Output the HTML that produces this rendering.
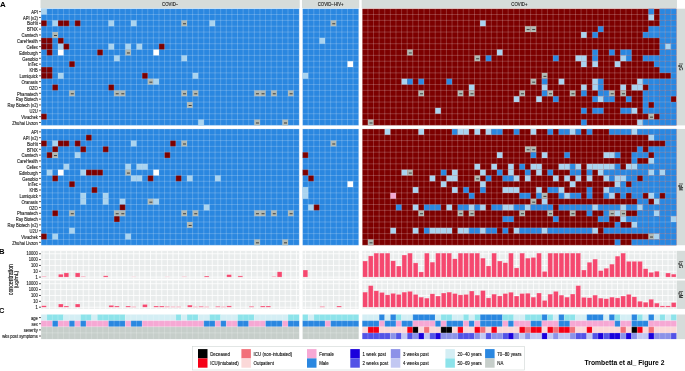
<!DOCTYPE html><html><head><meta charset="utf-8"><style>html,body{margin:0;padding:0;background:#fff;width:685px;height:371px;overflow:hidden}svg{display:block;will-change:transform}text{font-family:"Liberation Sans",sans-serif}</style></head><body>
<svg width="685" height="371" viewBox="0 0 685 371">
<rect width="685" height="371" fill="#fff"/>
<rect x="40.55" y="0" width="259.16" height="8.1" fill="#d6dcda"/>
<text transform="translate(170.18 5.95) scale(1 1.1)" font-size="4.3" fill="#1a1a1a" stroke="#1a1a1a" stroke-width="0.1" text-anchor="middle">COVID−</text>
<rect x="302" y="0" width="57.2" height="8.1" fill="#d6dcda"/>
<text transform="translate(330.65 5.95) scale(1 1.1)" font-size="4.3" fill="#1a1a1a" stroke="#1a1a1a" stroke-width="0.1" text-anchor="middle">COVID−HIV+</text>
<rect x="361.7" y="0" width="315.26" height="8.1" fill="#d6dcda"/>
<text transform="translate(519.38 5.95) scale(1 1.1)" font-size="4.3" fill="#1a1a1a" stroke="#1a1a1a" stroke-width="0.1" text-anchor="middle">COVID+</text>
<rect x="676.7" y="8.7" width="9" height="116.7" fill="#d6dcda"/>
<text transform="translate(679.2 67.05) rotate(90) scale(1 1.1)" font-size="4.3" fill="#1a1a1a" stroke="#1a1a1a" stroke-width="0.1" text-anchor="middle">IgG</text>
<rect x="676.7" y="128.95" width="9" height="116.3" fill="#d6dcda"/>
<text transform="translate(679.2 187.1) rotate(90) scale(1 1.1)" font-size="4.3" fill="#1a1a1a" stroke="#1a1a1a" stroke-width="0.1" text-anchor="middle">IgM</text>
<rect x="676.7" y="250.8" width="9" height="28" fill="#d6dcda"/>
<text transform="translate(679.2 264.8) rotate(90) scale(1 1.1)" font-size="4.3" fill="#1a1a1a" stroke="#1a1a1a" stroke-width="0.1" text-anchor="middle">IgG</text>
<rect x="676.7" y="280.5" width="9" height="28.4" fill="#d6dcda"/>
<text transform="translate(679.2 294.7) rotate(90) scale(1 1.1)" font-size="4.3" fill="#1a1a1a" stroke="#1a1a1a" stroke-width="0.1" text-anchor="middle">IgM</text>
<rect x="676.7" y="314.5" width="9" height="24.6" fill="#d6dcda"/>
<rect x="41.15" y="8.7" width="258.06" height="116.7" fill="#2a87e0"/>
<rect x="41.15" y="8.7" width="5.61" height="5.83" fill="#a9d3ef"/>
<rect x="41.15" y="20.37" width="5.61" height="5.83" fill="#7c0000"/>
<rect x="52.37" y="20.37" width="5.61" height="5.83" fill="#a9d3ef"/>
<rect x="57.98" y="20.37" width="5.61" height="5.83" fill="#7c0000"/>
<rect x="63.59" y="20.37" width="5.61" height="5.83" fill="#7c0000"/>
<rect x="74.81" y="20.37" width="5.61" height="5.83" fill="#7c0000"/>
<rect x="108.47" y="20.37" width="5.61" height="5.83" fill="#a9d3ef"/>
<rect x="130.91" y="20.37" width="5.61" height="5.83" fill="#a9d3ef"/>
<rect x="181.4" y="20.37" width="5.61" height="5.83" fill="#b0b8b2"/>
<rect x="209.45" y="20.37" width="5.61" height="5.83" fill="#a9d3ef"/>
<rect x="52.37" y="32.04" width="5.61" height="5.83" fill="#b0b8b2"/>
<rect x="41.15" y="37.88" width="5.61" height="5.83" fill="#7c0000"/>
<rect x="46.76" y="37.88" width="5.61" height="5.83" fill="#7c0000"/>
<rect x="57.98" y="37.88" width="5.61" height="5.83" fill="#7c0000"/>
<rect x="41.15" y="43.71" width="5.61" height="5.83" fill="#7c0000"/>
<rect x="46.76" y="43.71" width="5.61" height="5.83" fill="#7c0000"/>
<rect x="57.98" y="43.71" width="5.61" height="5.83" fill="#a9d3ef"/>
<rect x="63.59" y="43.71" width="5.61" height="5.83" fill="#7c0000"/>
<rect x="108.47" y="43.71" width="5.61" height="5.83" fill="#a9d3ef"/>
<rect x="125.3" y="43.71" width="5.61" height="5.83" fill="#a9d3ef"/>
<rect x="136.52" y="43.71" width="5.61" height="5.83" fill="#a9d3ef"/>
<rect x="158.96" y="43.71" width="5.61" height="5.83" fill="#7c0000"/>
<rect x="46.76" y="49.55" width="5.61" height="5.83" fill="#7c0000"/>
<rect x="57.98" y="49.55" width="5.61" height="5.83" fill="#ffffff"/>
<rect x="97.25" y="49.55" width="5.61" height="5.83" fill="#7c0000"/>
<rect x="125.3" y="49.55" width="5.61" height="5.83" fill="#b0b8b2"/>
<rect x="153.35" y="49.55" width="5.61" height="5.83" fill="#ffffff"/>
<rect x="114.08" y="55.38" width="5.61" height="5.83" fill="#a9d3ef"/>
<rect x="181.4" y="55.38" width="5.61" height="5.83" fill="#a9d3ef"/>
<rect x="69.2" y="61.22" width="5.61" height="5.83" fill="#7c0000"/>
<rect x="41.15" y="67.05" width="5.61" height="5.83" fill="#7c0000"/>
<rect x="46.76" y="67.05" width="5.61" height="5.83" fill="#7c0000"/>
<rect x="41.15" y="72.89" width="5.61" height="5.83" fill="#7c0000"/>
<rect x="46.76" y="72.89" width="5.61" height="5.83" fill="#7c0000"/>
<rect x="57.98" y="72.89" width="5.61" height="5.83" fill="#a9d3ef"/>
<rect x="142.13" y="72.89" width="5.61" height="5.83" fill="#7c0000"/>
<rect x="192.62" y="72.89" width="5.61" height="5.83" fill="#a9d3ef"/>
<rect x="147.74" y="78.72" width="5.61" height="5.83" fill="#b0b8b2"/>
<rect x="153.35" y="78.72" width="5.61" height="5.83" fill="#a9d3ef"/>
<rect x="52.37" y="84.56" width="5.61" height="5.83" fill="#7c0000"/>
<rect x="108.47" y="84.56" width="5.61" height="5.83" fill="#7c0000"/>
<rect x="69.2" y="90.39" width="5.61" height="5.83" fill="#b0b8b2"/>
<rect x="114.08" y="90.39" width="5.61" height="5.83" fill="#b0b8b2"/>
<rect x="119.69" y="90.39" width="5.61" height="5.83" fill="#b0b8b2"/>
<rect x="181.4" y="90.39" width="5.61" height="5.83" fill="#b0b8b2"/>
<rect x="192.62" y="90.39" width="5.61" height="5.83" fill="#b0b8b2"/>
<rect x="254.33" y="90.39" width="5.61" height="5.83" fill="#b0b8b2"/>
<rect x="259.94" y="90.39" width="5.61" height="5.83" fill="#b0b8b2"/>
<rect x="271.16" y="90.39" width="5.61" height="5.83" fill="#b0b8b2"/>
<rect x="287.99" y="90.39" width="5.61" height="5.83" fill="#b0b8b2"/>
<rect x="187.01" y="102.06" width="5.61" height="5.83" fill="#b0b8b2"/>
<rect x="41.15" y="113.73" width="5.61" height="5.83" fill="#7c0000"/>
<rect x="198.23" y="119.56" width="5.61" height="5.83" fill="#a9d3ef"/>
<rect x="254.33" y="119.56" width="5.61" height="5.83" fill="#b0b8b2"/>
<rect x="282.38" y="119.56" width="5.61" height="5.83" fill="#b0b8b2"/>
<path d="M41.15 8.7V125.4M46.76 8.7V125.4M52.37 8.7V125.4M57.98 8.7V125.4M63.59 8.7V125.4M69.2 8.7V125.4M74.81 8.7V125.4M80.42 8.7V125.4M86.03 8.7V125.4M91.64 8.7V125.4M97.25 8.7V125.4M102.86 8.7V125.4M108.47 8.7V125.4M114.08 8.7V125.4M119.69 8.7V125.4M125.3 8.7V125.4M130.91 8.7V125.4M136.52 8.7V125.4M142.13 8.7V125.4M147.74 8.7V125.4M153.35 8.7V125.4M158.96 8.7V125.4M164.57 8.7V125.4M170.18 8.7V125.4M175.79 8.7V125.4M181.4 8.7V125.4M187.01 8.7V125.4M192.62 8.7V125.4M198.23 8.7V125.4M203.84 8.7V125.4M209.45 8.7V125.4M215.06 8.7V125.4M220.67 8.7V125.4M226.28 8.7V125.4M231.89 8.7V125.4M237.5 8.7V125.4M243.11 8.7V125.4M248.72 8.7V125.4M254.33 8.7V125.4M259.94 8.7V125.4M265.55 8.7V125.4M271.16 8.7V125.4M276.77 8.7V125.4M282.38 8.7V125.4M287.99 8.7V125.4M293.6 8.7V125.4M299.21 8.7V125.4M41.15 8.7H299.21M41.15 14.54H299.21M41.15 20.37H299.21M41.15 26.2H299.21M41.15 32.04H299.21M41.15 37.88H299.21M41.15 43.71H299.21M41.15 49.55H299.21M41.15 55.38H299.21M41.15 61.22H299.21M41.15 67.05H299.21M41.15 72.89H299.21M41.15 78.72H299.21M41.15 84.56H299.21M41.15 90.39H299.21M41.15 96.23H299.21M41.15 102.06H299.21M41.15 107.89H299.21M41.15 113.73H299.21M41.15 119.56H299.21M41.15 125.4H299.21" stroke="#fff" stroke-opacity="0.45" stroke-width="0.45" fill="none"/>
<rect x="183.01" y="23.34" width="3.0" height="0.9" fill="#303030"/>
<rect x="53.97" y="35.01" width="3.0" height="0.9" fill="#303030"/>
<rect x="126.91" y="52.51" width="3.0" height="0.9" fill="#303030"/>
<rect x="149.35" y="81.69" width="3.0" height="0.9" fill="#303030"/>
<rect x="70.81" y="93.36" width="3.0" height="0.9" fill="#303030"/>
<rect x="115.69" y="93.36" width="3.0" height="0.9" fill="#303030"/>
<rect x="121.3" y="93.36" width="3.0" height="0.9" fill="#303030"/>
<rect x="183.01" y="93.36" width="3.0" height="0.9" fill="#303030"/>
<rect x="194.23" y="93.36" width="3.0" height="0.9" fill="#303030"/>
<rect x="255.94" y="93.36" width="3.0" height="0.9" fill="#303030"/>
<rect x="261.55" y="93.36" width="3.0" height="0.9" fill="#303030"/>
<rect x="272.77" y="93.36" width="3.0" height="0.9" fill="#303030"/>
<rect x="289.6" y="93.36" width="3.0" height="0.9" fill="#303030"/>
<rect x="188.62" y="105.03" width="3.0" height="0.9" fill="#303030"/>
<rect x="255.94" y="122.53" width="3.0" height="0.9" fill="#303030"/>
<rect x="283.99" y="122.53" width="3.0" height="0.9" fill="#303030"/>
<rect x="302.6" y="8.7" width="56.1" height="116.7" fill="#2a87e0"/>
<rect x="330.65" y="20.37" width="5.61" height="5.83" fill="#b0b8b2"/>
<rect x="319.43" y="37.88" width="5.61" height="5.83" fill="#a9d3ef"/>
<rect x="347.48" y="61.22" width="5.61" height="5.83" fill="#ffffff"/>
<rect x="302.6" y="72.89" width="5.61" height="5.83" fill="#a9d3ef"/>
<path d="M302.6 8.7V125.4M308.21 8.7V125.4M313.82 8.7V125.4M319.43 8.7V125.4M325.04 8.7V125.4M330.65 8.7V125.4M336.26 8.7V125.4M341.87 8.7V125.4M347.48 8.7V125.4M353.09 8.7V125.4M358.7 8.7V125.4M302.6 8.7H358.7M302.6 14.54H358.7M302.6 20.37H358.7M302.6 26.2H358.7M302.6 32.04H358.7M302.6 37.88H358.7M302.6 43.71H358.7M302.6 49.55H358.7M302.6 55.38H358.7M302.6 61.22H358.7M302.6 67.05H358.7M302.6 72.89H358.7M302.6 78.72H358.7M302.6 84.56H358.7M302.6 90.39H358.7M302.6 96.23H358.7M302.6 102.06H358.7M302.6 107.89H358.7M302.6 113.73H358.7M302.6 119.56H358.7M302.6 125.4H358.7" stroke="#fff" stroke-opacity="0.45" stroke-width="0.45" fill="none"/>
<rect x="332.26" y="23.34" width="3.0" height="0.9" fill="#303030"/>
<rect x="362.3" y="8.7" width="314.16" height="116.7" fill="#7c0000"/>
<rect x="648.41" y="8.7" width="5.61" height="5.83" fill="#2a87e0"/>
<rect x="659.63" y="8.7" width="5.61" height="5.83" fill="#2a87e0"/>
<rect x="665.24" y="8.7" width="5.61" height="5.83" fill="#2a87e0"/>
<rect x="670.85" y="8.7" width="5.61" height="5.83" fill="#2a87e0"/>
<rect x="648.41" y="14.54" width="5.61" height="5.83" fill="#a9d3ef"/>
<rect x="659.63" y="14.54" width="5.61" height="5.83" fill="#2a87e0"/>
<rect x="665.24" y="14.54" width="5.61" height="5.83" fill="#2a87e0"/>
<rect x="670.85" y="14.54" width="5.61" height="5.83" fill="#2a87e0"/>
<rect x="480.11" y="20.37" width="5.61" height="5.83" fill="#a9d3ef"/>
<rect x="659.63" y="20.37" width="5.61" height="5.83" fill="#2a87e0"/>
<rect x="665.24" y="20.37" width="5.61" height="5.83" fill="#2a87e0"/>
<rect x="670.85" y="20.37" width="5.61" height="5.83" fill="#2a87e0"/>
<rect x="524.99" y="26.2" width="5.61" height="5.83" fill="#b0b8b2"/>
<rect x="530.6" y="26.2" width="5.61" height="5.83" fill="#b0b8b2"/>
<rect x="597.92" y="26.2" width="5.61" height="5.83" fill="#2a87e0"/>
<rect x="648.41" y="26.2" width="5.61" height="5.83" fill="#2a87e0"/>
<rect x="654.02" y="26.2" width="5.61" height="5.83" fill="#2a87e0"/>
<rect x="659.63" y="26.2" width="5.61" height="5.83" fill="#2a87e0"/>
<rect x="665.24" y="26.2" width="5.61" height="5.83" fill="#2a87e0"/>
<rect x="670.85" y="26.2" width="5.61" height="5.83" fill="#2a87e0"/>
<rect x="581.09" y="32.04" width="5.61" height="5.83" fill="#a9d3ef"/>
<rect x="592.31" y="32.04" width="5.61" height="5.83" fill="#2a87e0"/>
<rect x="642.8" y="32.04" width="5.61" height="5.83" fill="#2a87e0"/>
<rect x="648.41" y="32.04" width="5.61" height="5.83" fill="#2a87e0"/>
<rect x="654.02" y="32.04" width="5.61" height="5.83" fill="#2a87e0"/>
<rect x="659.63" y="32.04" width="5.61" height="5.83" fill="#2a87e0"/>
<rect x="665.24" y="32.04" width="5.61" height="5.83" fill="#2a87e0"/>
<rect x="670.85" y="32.04" width="5.61" height="5.83" fill="#2a87e0"/>
<rect x="659.63" y="37.88" width="5.61" height="5.83" fill="#2a87e0"/>
<rect x="665.24" y="37.88" width="5.61" height="5.83" fill="#2a87e0"/>
<rect x="670.85" y="37.88" width="5.61" height="5.83" fill="#2a87e0"/>
<rect x="659.63" y="43.71" width="5.61" height="5.83" fill="#2a87e0"/>
<rect x="665.24" y="43.71" width="5.61" height="5.83" fill="#a9d3ef"/>
<rect x="670.85" y="43.71" width="5.61" height="5.83" fill="#2a87e0"/>
<rect x="407.18" y="49.55" width="5.61" height="5.83" fill="#b0b8b2"/>
<rect x="496.94" y="49.55" width="5.61" height="5.83" fill="#a9d3ef"/>
<rect x="592.31" y="49.55" width="5.61" height="5.83" fill="#2a87e0"/>
<rect x="609.14" y="49.55" width="5.61" height="5.83" fill="#2a87e0"/>
<rect x="620.36" y="49.55" width="5.61" height="5.83" fill="#2a87e0"/>
<rect x="625.97" y="49.55" width="5.61" height="5.83" fill="#2a87e0"/>
<rect x="659.63" y="49.55" width="5.61" height="5.83" fill="#2a87e0"/>
<rect x="665.24" y="49.55" width="5.61" height="5.83" fill="#2a87e0"/>
<rect x="670.85" y="49.55" width="5.61" height="5.83" fill="#2a87e0"/>
<rect x="474.5" y="55.38" width="5.61" height="5.83" fill="#b0b8b2"/>
<rect x="485.72" y="55.38" width="5.61" height="5.83" fill="#2a87e0"/>
<rect x="553.04" y="55.38" width="5.61" height="5.83" fill="#2a87e0"/>
<rect x="575.48" y="55.38" width="5.61" height="5.83" fill="#a9d3ef"/>
<rect x="581.09" y="55.38" width="5.61" height="5.83" fill="#a9d3ef"/>
<rect x="592.31" y="55.38" width="5.61" height="5.83" fill="#2a87e0"/>
<rect x="620.36" y="55.38" width="5.61" height="5.83" fill="#a9d3ef"/>
<rect x="625.97" y="55.38" width="5.61" height="5.83" fill="#2a87e0"/>
<rect x="642.8" y="55.38" width="5.61" height="5.83" fill="#2a87e0"/>
<rect x="648.41" y="55.38" width="5.61" height="5.83" fill="#2a87e0"/>
<rect x="654.02" y="55.38" width="5.61" height="5.83" fill="#2a87e0"/>
<rect x="659.63" y="55.38" width="5.61" height="5.83" fill="#2a87e0"/>
<rect x="665.24" y="55.38" width="5.61" height="5.83" fill="#2a87e0"/>
<rect x="670.85" y="55.38" width="5.61" height="5.83" fill="#2a87e0"/>
<rect x="581.09" y="61.22" width="5.61" height="5.83" fill="#a9d3ef"/>
<rect x="592.31" y="61.22" width="5.61" height="5.83" fill="#a9d3ef"/>
<rect x="614.75" y="61.22" width="5.61" height="5.83" fill="#a9d3ef"/>
<rect x="654.02" y="61.22" width="5.61" height="5.83" fill="#2a87e0"/>
<rect x="659.63" y="61.22" width="5.61" height="5.83" fill="#2a87e0"/>
<rect x="665.24" y="61.22" width="5.61" height="5.83" fill="#2a87e0"/>
<rect x="670.85" y="61.22" width="5.61" height="5.83" fill="#2a87e0"/>
<rect x="659.63" y="67.05" width="5.61" height="5.83" fill="#2a87e0"/>
<rect x="665.24" y="67.05" width="5.61" height="5.83" fill="#2a87e0"/>
<rect x="670.85" y="67.05" width="5.61" height="5.83" fill="#2a87e0"/>
<rect x="541.82" y="72.89" width="5.61" height="5.83" fill="#b0b8b2"/>
<rect x="670.85" y="72.89" width="5.61" height="5.83" fill="#2a87e0"/>
<rect x="401.57" y="78.72" width="5.61" height="5.83" fill="#a9d3ef"/>
<rect x="407.18" y="78.72" width="5.61" height="5.83" fill="#2a87e0"/>
<rect x="418.4" y="78.72" width="5.61" height="5.83" fill="#2a87e0"/>
<rect x="446.45" y="78.72" width="5.61" height="5.83" fill="#2a87e0"/>
<rect x="530.6" y="78.72" width="5.61" height="5.83" fill="#b0b8b2"/>
<rect x="541.82" y="78.72" width="5.61" height="5.83" fill="#2a87e0"/>
<rect x="558.65" y="78.72" width="5.61" height="5.83" fill="#a9d3ef"/>
<rect x="592.31" y="78.72" width="5.61" height="5.83" fill="#a9d3ef"/>
<rect x="597.92" y="78.72" width="5.61" height="5.83" fill="#2a87e0"/>
<rect x="637.19" y="78.72" width="5.61" height="5.83" fill="#a9d3ef"/>
<rect x="642.8" y="78.72" width="5.61" height="5.83" fill="#2a87e0"/>
<rect x="648.41" y="78.72" width="5.61" height="5.83" fill="#2a87e0"/>
<rect x="654.02" y="78.72" width="5.61" height="5.83" fill="#2a87e0"/>
<rect x="659.63" y="78.72" width="5.61" height="5.83" fill="#2a87e0"/>
<rect x="665.24" y="78.72" width="5.61" height="5.83" fill="#2a87e0"/>
<rect x="670.85" y="78.72" width="5.61" height="5.83" fill="#2a87e0"/>
<rect x="468.89" y="84.56" width="5.61" height="5.83" fill="#a9d3ef"/>
<rect x="541.82" y="84.56" width="5.61" height="5.83" fill="#a9d3ef"/>
<rect x="581.09" y="84.56" width="5.61" height="5.83" fill="#a9d3ef"/>
<rect x="592.31" y="84.56" width="5.61" height="5.83" fill="#a9d3ef"/>
<rect x="597.92" y="84.56" width="5.61" height="5.83" fill="#2a87e0"/>
<rect x="620.36" y="84.56" width="5.61" height="5.83" fill="#a9d3ef"/>
<rect x="631.58" y="84.56" width="5.61" height="5.83" fill="#a9d3ef"/>
<rect x="637.19" y="84.56" width="5.61" height="5.83" fill="#a9d3ef"/>
<rect x="648.41" y="84.56" width="5.61" height="5.83" fill="#2a87e0"/>
<rect x="654.02" y="84.56" width="5.61" height="5.83" fill="#2a87e0"/>
<rect x="659.63" y="84.56" width="5.61" height="5.83" fill="#2a87e0"/>
<rect x="665.24" y="84.56" width="5.61" height="5.83" fill="#2a87e0"/>
<rect x="670.85" y="84.56" width="5.61" height="5.83" fill="#2a87e0"/>
<rect x="418.4" y="90.39" width="5.61" height="5.83" fill="#b0b8b2"/>
<rect x="457.67" y="90.39" width="5.61" height="5.83" fill="#b0b8b2"/>
<rect x="468.89" y="90.39" width="5.61" height="5.83" fill="#b0b8b2"/>
<rect x="519.38" y="90.39" width="5.61" height="5.83" fill="#b0b8b2"/>
<rect x="541.82" y="90.39" width="5.61" height="5.83" fill="#2a87e0"/>
<rect x="547.43" y="90.39" width="5.61" height="5.83" fill="#b0b8b2"/>
<rect x="569.87" y="90.39" width="5.61" height="5.83" fill="#b0b8b2"/>
<rect x="581.09" y="90.39" width="5.61" height="5.83" fill="#2a87e0"/>
<rect x="597.92" y="90.39" width="5.61" height="5.83" fill="#2a87e0"/>
<rect x="603.53" y="90.39" width="5.61" height="5.83" fill="#2a87e0"/>
<rect x="609.14" y="90.39" width="5.61" height="5.83" fill="#b0b8b2"/>
<rect x="620.36" y="90.39" width="5.61" height="5.83" fill="#b0b8b2"/>
<rect x="642.8" y="90.39" width="5.61" height="5.83" fill="#2a87e0"/>
<rect x="648.41" y="90.39" width="5.61" height="5.83" fill="#2a87e0"/>
<rect x="654.02" y="90.39" width="5.61" height="5.83" fill="#2a87e0"/>
<rect x="659.63" y="90.39" width="5.61" height="5.83" fill="#2a87e0"/>
<rect x="665.24" y="90.39" width="5.61" height="5.83" fill="#2a87e0"/>
<rect x="670.85" y="90.39" width="5.61" height="5.83" fill="#2a87e0"/>
<rect x="513.77" y="96.23" width="5.61" height="5.83" fill="#a9d3ef"/>
<rect x="536.21" y="96.23" width="5.61" height="5.83" fill="#a9d3ef"/>
<rect x="553.04" y="96.23" width="5.61" height="5.83" fill="#2a87e0"/>
<rect x="592.31" y="96.23" width="5.61" height="5.83" fill="#2a87e0"/>
<rect x="597.92" y="96.23" width="5.61" height="5.83" fill="#a9d3ef"/>
<rect x="603.53" y="96.23" width="5.61" height="5.83" fill="#2a87e0"/>
<rect x="609.14" y="96.23" width="5.61" height="5.83" fill="#2a87e0"/>
<rect x="625.97" y="96.23" width="5.61" height="5.83" fill="#2a87e0"/>
<rect x="642.8" y="96.23" width="5.61" height="5.83" fill="#2a87e0"/>
<rect x="648.41" y="96.23" width="5.61" height="5.83" fill="#2a87e0"/>
<rect x="654.02" y="96.23" width="5.61" height="5.83" fill="#2a87e0"/>
<rect x="659.63" y="96.23" width="5.61" height="5.83" fill="#2a87e0"/>
<rect x="665.24" y="96.23" width="5.61" height="5.83" fill="#2a87e0"/>
<rect x="642.8" y="102.06" width="5.61" height="5.83" fill="#2a87e0"/>
<rect x="654.02" y="102.06" width="5.61" height="5.83" fill="#2a87e0"/>
<rect x="659.63" y="102.06" width="5.61" height="5.83" fill="#2a87e0"/>
<rect x="665.24" y="102.06" width="5.61" height="5.83" fill="#2a87e0"/>
<rect x="670.85" y="102.06" width="5.61" height="5.83" fill="#2a87e0"/>
<rect x="435.23" y="107.89" width="5.61" height="5.83" fill="#a9d3ef"/>
<rect x="581.09" y="107.89" width="5.61" height="5.83" fill="#2a87e0"/>
<rect x="592.31" y="107.89" width="5.61" height="5.83" fill="#2a87e0"/>
<rect x="597.92" y="107.89" width="5.61" height="5.83" fill="#2a87e0"/>
<rect x="620.36" y="107.89" width="5.61" height="5.83" fill="#2a87e0"/>
<rect x="625.97" y="107.89" width="5.61" height="5.83" fill="#2a87e0"/>
<rect x="631.58" y="107.89" width="5.61" height="5.83" fill="#a9d3ef"/>
<rect x="642.8" y="107.89" width="5.61" height="5.83" fill="#2a87e0"/>
<rect x="648.41" y="107.89" width="5.61" height="5.83" fill="#2a87e0"/>
<rect x="654.02" y="107.89" width="5.61" height="5.83" fill="#2a87e0"/>
<rect x="659.63" y="107.89" width="5.61" height="5.83" fill="#2a87e0"/>
<rect x="665.24" y="107.89" width="5.61" height="5.83" fill="#2a87e0"/>
<rect x="670.85" y="107.89" width="5.61" height="5.83" fill="#2a87e0"/>
<rect x="648.41" y="113.73" width="5.61" height="5.83" fill="#b0b8b2"/>
<rect x="659.63" y="113.73" width="5.61" height="5.83" fill="#2a87e0"/>
<rect x="665.24" y="113.73" width="5.61" height="5.83" fill="#2a87e0"/>
<rect x="670.85" y="113.73" width="5.61" height="5.83" fill="#2a87e0"/>
<rect x="367.91" y="119.56" width="5.61" height="5.83" fill="#b0b8b2"/>
<rect x="581.09" y="119.56" width="5.61" height="5.83" fill="#2a87e0"/>
<rect x="637.19" y="119.56" width="5.61" height="5.83" fill="#a9d3ef"/>
<rect x="642.8" y="119.56" width="5.61" height="5.83" fill="#2a87e0"/>
<rect x="648.41" y="119.56" width="5.61" height="5.83" fill="#2a87e0"/>
<rect x="654.02" y="119.56" width="5.61" height="5.83" fill="#2a87e0"/>
<rect x="659.63" y="119.56" width="5.61" height="5.83" fill="#2a87e0"/>
<rect x="665.24" y="119.56" width="5.61" height="5.83" fill="#2a87e0"/>
<rect x="670.85" y="119.56" width="5.61" height="5.83" fill="#2a87e0"/>
<path d="M362.3 8.7V125.4M367.91 8.7V125.4M373.52 8.7V125.4M379.13 8.7V125.4M384.74 8.7V125.4M390.35 8.7V125.4M395.96 8.7V125.4M401.57 8.7V125.4M407.18 8.7V125.4M412.79 8.7V125.4M418.4 8.7V125.4M424.01 8.7V125.4M429.62 8.7V125.4M435.23 8.7V125.4M440.84 8.7V125.4M446.45 8.7V125.4M452.06 8.7V125.4M457.67 8.7V125.4M463.28 8.7V125.4M468.89 8.7V125.4M474.5 8.7V125.4M480.11 8.7V125.4M485.72 8.7V125.4M491.33 8.7V125.4M496.94 8.7V125.4M502.55 8.7V125.4M508.16 8.7V125.4M513.77 8.7V125.4M519.38 8.7V125.4M524.99 8.7V125.4M530.6 8.7V125.4M536.21 8.7V125.4M541.82 8.7V125.4M547.43 8.7V125.4M553.04 8.7V125.4M558.65 8.7V125.4M564.26 8.7V125.4M569.87 8.7V125.4M575.48 8.7V125.4M581.09 8.7V125.4M586.7 8.7V125.4M592.31 8.7V125.4M597.92 8.7V125.4M603.53 8.7V125.4M609.14 8.7V125.4M614.75 8.7V125.4M620.36 8.7V125.4M625.97 8.7V125.4M631.58 8.7V125.4M637.19 8.7V125.4M642.8 8.7V125.4M648.41 8.7V125.4M654.02 8.7V125.4M659.63 8.7V125.4M665.24 8.7V125.4M670.85 8.7V125.4M676.46 8.7V125.4M362.3 8.7H676.46M362.3 14.54H676.46M362.3 20.37H676.46M362.3 26.2H676.46M362.3 32.04H676.46M362.3 37.88H676.46M362.3 43.71H676.46M362.3 49.55H676.46M362.3 55.38H676.46M362.3 61.22H676.46M362.3 67.05H676.46M362.3 72.89H676.46M362.3 78.72H676.46M362.3 84.56H676.46M362.3 90.39H676.46M362.3 96.23H676.46M362.3 102.06H676.46M362.3 107.89H676.46M362.3 113.73H676.46M362.3 119.56H676.46M362.3 125.4H676.46" stroke="#fff" stroke-opacity="0.45" stroke-width="0.45" fill="none"/>
<rect x="526.59" y="29.17" width="3.0" height="0.9" fill="#303030"/>
<rect x="532.2" y="29.17" width="3.0" height="0.9" fill="#303030"/>
<rect x="408.79" y="52.51" width="3.0" height="0.9" fill="#303030"/>
<rect x="476.11" y="58.35" width="3.0" height="0.9" fill="#303030"/>
<rect x="543.42" y="75.85" width="3.0" height="0.9" fill="#303030"/>
<rect x="532.2" y="81.69" width="3.0" height="0.9" fill="#303030"/>
<rect x="420.01" y="93.36" width="3.0" height="0.9" fill="#303030"/>
<rect x="459.28" y="93.36" width="3.0" height="0.9" fill="#303030"/>
<rect x="470.5" y="93.36" width="3.0" height="0.9" fill="#303030"/>
<rect x="520.98" y="93.36" width="3.0" height="0.9" fill="#303030"/>
<rect x="549.03" y="93.36" width="3.0" height="0.9" fill="#303030"/>
<rect x="571.47" y="93.36" width="3.0" height="0.9" fill="#303030"/>
<rect x="610.74" y="93.36" width="3.0" height="0.9" fill="#303030"/>
<rect x="621.96" y="93.36" width="3.0" height="0.9" fill="#303030"/>
<rect x="650.01" y="116.7" width="3.0" height="0.9" fill="#303030"/>
<rect x="369.52" y="122.53" width="3.0" height="0.9" fill="#303030"/>
<text transform="translate(37.8 13.82) scale(1 1.13)" font-size="4.1" fill="#303030" stroke="#303030" stroke-width="0.14" text-anchor="end">API</text>
<text transform="translate(37.8 19.65) scale(1 1.13)" font-size="4.1" fill="#303030" stroke="#303030" stroke-width="0.14" text-anchor="end">API (v2)</text>
<text transform="translate(37.8 25.49) scale(1 1.13)" font-size="4.1" fill="#303030" stroke="#303030" stroke-width="0.14" text-anchor="end">BioHit</text>
<text transform="translate(37.8 31.32) scale(1 1.13)" font-size="4.1" fill="#303030" stroke="#303030" stroke-width="0.14" text-anchor="end">BTNX</text>
<text transform="translate(37.8 37.16) scale(1 1.13)" font-size="4.1" fill="#303030" stroke="#303030" stroke-width="0.14" text-anchor="end">Camtech</text>
<text transform="translate(37.8 42.99) scale(1 1.13)" font-size="4.1" fill="#303030" stroke="#303030" stroke-width="0.14" text-anchor="end">CareHealth</text>
<text transform="translate(37.8 48.83) scale(1 1.13)" font-size="4.1" fill="#303030" stroke="#303030" stroke-width="0.14" text-anchor="end">Cellex</text>
<text transform="translate(37.8 54.66) scale(1 1.13)" font-size="4.1" fill="#303030" stroke="#303030" stroke-width="0.14" text-anchor="end">Edinburgh</text>
<text transform="translate(37.8 60.5) scale(1 1.13)" font-size="4.1" fill="#303030" stroke="#303030" stroke-width="0.14" text-anchor="end">Genobio</text>
<text transform="translate(37.8 66.33) scale(1 1.13)" font-size="4.1" fill="#303030" stroke="#303030" stroke-width="0.14" text-anchor="end">InTec</text>
<text transform="translate(37.8 72.17) scale(1 1.13)" font-size="4.1" fill="#303030" stroke="#303030" stroke-width="0.14" text-anchor="end">KHB</text>
<text transform="translate(37.8 78) scale(1 1.13)" font-size="4.1" fill="#303030" stroke="#303030" stroke-width="0.14" text-anchor="end">Lumiquick</text>
<text transform="translate(37.8 83.84) scale(1 1.13)" font-size="4.1" fill="#303030" stroke="#303030" stroke-width="0.14" text-anchor="end">Oranasis</text>
<text transform="translate(37.8 89.67) scale(1 1.13)" font-size="4.1" fill="#303030" stroke="#303030" stroke-width="0.14" text-anchor="end">OZO</text>
<text transform="translate(37.8 95.51) scale(1 1.13)" font-size="4.1" fill="#303030" stroke="#303030" stroke-width="0.14" text-anchor="end">Phamatech</text>
<text transform="translate(37.8 101.34) scale(1 1.13)" font-size="4.1" fill="#303030" stroke="#303030" stroke-width="0.14" text-anchor="end">Ray Biotech</text>
<text transform="translate(37.8 107.18) scale(1 1.13)" font-size="4.1" fill="#303030" stroke="#303030" stroke-width="0.14" text-anchor="end">Ray Biotech (v2)</text>
<text transform="translate(37.8 113.01) scale(1 1.13)" font-size="4.1" fill="#303030" stroke="#303030" stroke-width="0.14" text-anchor="end">U2U</text>
<text transform="translate(37.8 118.85) scale(1 1.13)" font-size="4.1" fill="#303030" stroke="#303030" stroke-width="0.14" text-anchor="end">Vivachek</text>
<text transform="translate(37.8 124.68) scale(1 1.13)" font-size="4.1" fill="#303030" stroke="#303030" stroke-width="0.14" text-anchor="end">Zhuhai Livzon</text>
<path d="M39.0 11.62H40.9M39.0 17.45H40.9M39.0 23.29H40.9M39.0 29.12H40.9M39.0 34.96H40.9M39.0 40.79H40.9M39.0 46.63H40.9M39.0 52.46H40.9M39.0 58.3H40.9M39.0 64.13H40.9M39.0 69.97H40.9M39.0 75.8H40.9M39.0 81.64H40.9M39.0 87.47H40.9M39.0 93.31H40.9M39.0 99.14H40.9M39.0 104.98H40.9M39.0 110.81H40.9M39.0 116.65H40.9M39.0 122.48H40.9" stroke="#222" stroke-width="0.8"/>
<rect x="41.15" y="128.95" width="258.06" height="116.3" fill="#2a87e0"/>
<rect x="86.03" y="134.76" width="5.61" height="5.82" fill="#7c0000"/>
<rect x="41.15" y="140.58" width="5.61" height="5.82" fill="#7c0000"/>
<rect x="52.37" y="140.58" width="5.61" height="5.82" fill="#a9d3ef"/>
<rect x="57.98" y="140.58" width="5.61" height="5.82" fill="#7c0000"/>
<rect x="63.59" y="140.58" width="5.61" height="5.82" fill="#7c0000"/>
<rect x="74.81" y="140.58" width="5.61" height="5.82" fill="#7c0000"/>
<rect x="130.91" y="140.58" width="5.61" height="5.82" fill="#a9d3ef"/>
<rect x="170.18" y="140.58" width="5.61" height="5.82" fill="#7c0000"/>
<rect x="181.4" y="140.58" width="5.61" height="5.82" fill="#b0b8b2"/>
<rect x="52.37" y="146.39" width="5.61" height="5.82" fill="#7c0000"/>
<rect x="80.42" y="146.39" width="5.61" height="5.82" fill="#7c0000"/>
<rect x="102.86" y="146.39" width="5.61" height="5.82" fill="#7c0000"/>
<rect x="46.76" y="152.21" width="5.61" height="5.82" fill="#7c0000"/>
<rect x="52.37" y="152.21" width="5.61" height="5.82" fill="#b0b8b2"/>
<rect x="74.81" y="152.21" width="5.61" height="5.82" fill="#a9d3ef"/>
<rect x="164.57" y="152.21" width="5.61" height="5.82" fill="#7c0000"/>
<rect x="63.59" y="163.84" width="5.61" height="5.82" fill="#a9d3ef"/>
<rect x="125.3" y="163.84" width="5.61" height="5.82" fill="#a9d3ef"/>
<rect x="136.52" y="163.84" width="5.61" height="5.82" fill="#a9d3ef"/>
<rect x="142.13" y="163.84" width="5.61" height="5.82" fill="#a9d3ef"/>
<rect x="46.76" y="169.66" width="5.61" height="5.82" fill="#a9d3ef"/>
<rect x="57.98" y="169.66" width="5.61" height="5.82" fill="#ffffff"/>
<rect x="80.42" y="169.66" width="5.61" height="5.82" fill="#a9d3ef"/>
<rect x="86.03" y="169.66" width="5.61" height="5.82" fill="#7c0000"/>
<rect x="91.64" y="169.66" width="5.61" height="5.82" fill="#7c0000"/>
<rect x="97.25" y="169.66" width="5.61" height="5.82" fill="#7c0000"/>
<rect x="125.3" y="169.66" width="5.61" height="5.82" fill="#b0b8b2"/>
<rect x="153.35" y="169.66" width="5.61" height="5.82" fill="#ffffff"/>
<rect x="52.37" y="175.47" width="5.61" height="5.82" fill="#7c0000"/>
<rect x="130.91" y="175.47" width="5.61" height="5.82" fill="#a9d3ef"/>
<rect x="136.52" y="175.47" width="5.61" height="5.82" fill="#a9d3ef"/>
<rect x="147.74" y="175.47" width="5.61" height="5.82" fill="#7c0000"/>
<rect x="175.79" y="175.47" width="5.61" height="5.82" fill="#7c0000"/>
<rect x="187.01" y="175.47" width="5.61" height="5.82" fill="#a9d3ef"/>
<rect x="215.06" y="175.47" width="5.61" height="5.82" fill="#a9d3ef"/>
<rect x="69.2" y="181.28" width="5.61" height="5.82" fill="#7c0000"/>
<rect x="91.64" y="187.1" width="5.61" height="5.82" fill="#7c0000"/>
<rect x="80.42" y="192.91" width="5.61" height="5.82" fill="#a9d3ef"/>
<rect x="102.86" y="192.91" width="5.61" height="5.82" fill="#a9d3ef"/>
<rect x="80.42" y="198.73" width="5.61" height="5.82" fill="#a9d3ef"/>
<rect x="102.86" y="198.73" width="5.61" height="5.82" fill="#a9d3ef"/>
<rect x="119.69" y="198.73" width="5.61" height="5.82" fill="#a9d3ef"/>
<rect x="147.74" y="198.73" width="5.61" height="5.82" fill="#b0b8b2"/>
<rect x="153.35" y="198.73" width="5.61" height="5.82" fill="#a9d3ef"/>
<rect x="119.69" y="204.54" width="5.61" height="5.82" fill="#7c0000"/>
<rect x="203.84" y="204.54" width="5.61" height="5.82" fill="#a9d3ef"/>
<rect x="52.37" y="210.36" width="5.61" height="5.82" fill="#7c0000"/>
<rect x="69.2" y="210.36" width="5.61" height="5.82" fill="#b0b8b2"/>
<rect x="114.08" y="210.36" width="5.61" height="5.82" fill="#b0b8b2"/>
<rect x="119.69" y="210.36" width="5.61" height="5.82" fill="#b0b8b2"/>
<rect x="181.4" y="210.36" width="5.61" height="5.82" fill="#b0b8b2"/>
<rect x="192.62" y="210.36" width="5.61" height="5.82" fill="#b0b8b2"/>
<rect x="254.33" y="210.36" width="5.61" height="5.82" fill="#b0b8b2"/>
<rect x="259.94" y="210.36" width="5.61" height="5.82" fill="#b0b8b2"/>
<rect x="271.16" y="210.36" width="5.61" height="5.82" fill="#b0b8b2"/>
<rect x="287.99" y="210.36" width="5.61" height="5.82" fill="#b0b8b2"/>
<rect x="114.08" y="216.18" width="5.61" height="5.82" fill="#7c0000"/>
<rect x="187.01" y="221.99" width="5.61" height="5.82" fill="#b0b8b2"/>
<rect x="69.2" y="227.81" width="5.61" height="5.82" fill="#a9d3ef"/>
<rect x="41.15" y="233.62" width="5.61" height="5.82" fill="#7c0000"/>
<rect x="52.37" y="233.62" width="5.61" height="5.82" fill="#a9d3ef"/>
<rect x="125.3" y="233.62" width="5.61" height="5.82" fill="#a9d3ef"/>
<rect x="254.33" y="239.44" width="5.61" height="5.82" fill="#b0b8b2"/>
<rect x="282.38" y="239.44" width="5.61" height="5.82" fill="#b0b8b2"/>
<path d="M41.15 128.95V245.25M46.76 128.95V245.25M52.37 128.95V245.25M57.98 128.95V245.25M63.59 128.95V245.25M69.2 128.95V245.25M74.81 128.95V245.25M80.42 128.95V245.25M86.03 128.95V245.25M91.64 128.95V245.25M97.25 128.95V245.25M102.86 128.95V245.25M108.47 128.95V245.25M114.08 128.95V245.25M119.69 128.95V245.25M125.3 128.95V245.25M130.91 128.95V245.25M136.52 128.95V245.25M142.13 128.95V245.25M147.74 128.95V245.25M153.35 128.95V245.25M158.96 128.95V245.25M164.57 128.95V245.25M170.18 128.95V245.25M175.79 128.95V245.25M181.4 128.95V245.25M187.01 128.95V245.25M192.62 128.95V245.25M198.23 128.95V245.25M203.84 128.95V245.25M209.45 128.95V245.25M215.06 128.95V245.25M220.67 128.95V245.25M226.28 128.95V245.25M231.89 128.95V245.25M237.5 128.95V245.25M243.11 128.95V245.25M248.72 128.95V245.25M254.33 128.95V245.25M259.94 128.95V245.25M265.55 128.95V245.25M271.16 128.95V245.25M276.77 128.95V245.25M282.38 128.95V245.25M287.99 128.95V245.25M293.6 128.95V245.25M299.21 128.95V245.25M41.15 128.95H299.21M41.15 134.76H299.21M41.15 140.58H299.21M41.15 146.39H299.21M41.15 152.21H299.21M41.15 158.02H299.21M41.15 163.84H299.21M41.15 169.66H299.21M41.15 175.47H299.21M41.15 181.28H299.21M41.15 187.1H299.21M41.15 192.91H299.21M41.15 198.73H299.21M41.15 204.54H299.21M41.15 210.36H299.21M41.15 216.18H299.21M41.15 221.99H299.21M41.15 227.81H299.21M41.15 233.62H299.21M41.15 239.44H299.21M41.15 245.25H299.21" stroke="#fff" stroke-opacity="0.45" stroke-width="0.45" fill="none"/>
<rect x="183.01" y="143.54" width="3.0" height="0.9" fill="#303030"/>
<rect x="53.97" y="155.17" width="3.0" height="0.9" fill="#303030"/>
<rect x="126.91" y="172.61" width="3.0" height="0.9" fill="#303030"/>
<rect x="149.35" y="201.69" width="3.0" height="0.9" fill="#303030"/>
<rect x="70.81" y="213.32" width="3.0" height="0.9" fill="#303030"/>
<rect x="115.69" y="213.32" width="3.0" height="0.9" fill="#303030"/>
<rect x="121.3" y="213.32" width="3.0" height="0.9" fill="#303030"/>
<rect x="183.01" y="213.32" width="3.0" height="0.9" fill="#303030"/>
<rect x="194.23" y="213.32" width="3.0" height="0.9" fill="#303030"/>
<rect x="255.94" y="213.32" width="3.0" height="0.9" fill="#303030"/>
<rect x="261.55" y="213.32" width="3.0" height="0.9" fill="#303030"/>
<rect x="272.77" y="213.32" width="3.0" height="0.9" fill="#303030"/>
<rect x="289.6" y="213.32" width="3.0" height="0.9" fill="#303030"/>
<rect x="188.62" y="224.95" width="3.0" height="0.9" fill="#303030"/>
<rect x="255.94" y="242.39" width="3.0" height="0.9" fill="#303030"/>
<rect x="283.99" y="242.39" width="3.0" height="0.9" fill="#303030"/>
<rect x="302.6" y="128.95" width="56.1" height="116.3" fill="#2a87e0"/>
<rect x="330.65" y="140.58" width="5.61" height="5.82" fill="#b0b8b2"/>
<rect x="302.6" y="152.21" width="5.61" height="5.82" fill="#7c0000"/>
<rect x="302.6" y="169.66" width="5.61" height="5.82" fill="#7c0000"/>
<rect x="308.21" y="175.47" width="5.61" height="5.82" fill="#7c0000"/>
<rect x="347.48" y="181.28" width="5.61" height="5.82" fill="#ffffff"/>
<rect x="302.6" y="187.1" width="5.61" height="5.82" fill="#a9d3ef"/>
<rect x="302.6" y="192.91" width="5.61" height="5.82" fill="#a9d3ef"/>
<rect x="308.21" y="204.54" width="5.61" height="5.82" fill="#a9d3ef"/>
<rect x="313.82" y="204.54" width="5.61" height="5.82" fill="#7c0000"/>
<path d="M302.6 128.95V245.25M308.21 128.95V245.25M313.82 128.95V245.25M319.43 128.95V245.25M325.04 128.95V245.25M330.65 128.95V245.25M336.26 128.95V245.25M341.87 128.95V245.25M347.48 128.95V245.25M353.09 128.95V245.25M358.7 128.95V245.25M302.6 128.95H358.7M302.6 134.76H358.7M302.6 140.58H358.7M302.6 146.39H358.7M302.6 152.21H358.7M302.6 158.02H358.7M302.6 163.84H358.7M302.6 169.66H358.7M302.6 175.47H358.7M302.6 181.28H358.7M302.6 187.1H358.7M302.6 192.91H358.7M302.6 198.73H358.7M302.6 204.54H358.7M302.6 210.36H358.7M302.6 216.18H358.7M302.6 221.99H358.7M302.6 227.81H358.7M302.6 233.62H358.7M302.6 239.44H358.7M302.6 245.25H358.7" stroke="#fff" stroke-opacity="0.45" stroke-width="0.45" fill="none"/>
<rect x="332.26" y="143.54" width="3.0" height="0.9" fill="#303030"/>
<rect x="362.3" y="128.95" width="314.16" height="116.3" fill="#7c0000"/>
<rect x="384.74" y="128.95" width="5.61" height="5.82" fill="#a9d3ef"/>
<rect x="418.4" y="128.95" width="5.61" height="5.82" fill="#a9d3ef"/>
<rect x="452.06" y="128.95" width="5.61" height="5.82" fill="#2a87e0"/>
<rect x="457.67" y="128.95" width="5.61" height="5.82" fill="#a9d3ef"/>
<rect x="463.28" y="128.95" width="5.61" height="5.82" fill="#a9d3ef"/>
<rect x="474.5" y="128.95" width="5.61" height="5.82" fill="#a9d3ef"/>
<rect x="485.72" y="128.95" width="5.61" height="5.82" fill="#a9d3ef"/>
<rect x="491.33" y="128.95" width="5.61" height="5.82" fill="#2a87e0"/>
<rect x="496.94" y="128.95" width="5.61" height="5.82" fill="#2a87e0"/>
<rect x="513.77" y="128.95" width="5.61" height="5.82" fill="#2a87e0"/>
<rect x="530.6" y="128.95" width="5.61" height="5.82" fill="#a9d3ef"/>
<rect x="547.43" y="128.95" width="5.61" height="5.82" fill="#2a87e0"/>
<rect x="558.65" y="128.95" width="5.61" height="5.82" fill="#2a87e0"/>
<rect x="564.26" y="128.95" width="5.61" height="5.82" fill="#2a87e0"/>
<rect x="569.87" y="128.95" width="5.61" height="5.82" fill="#a9d3ef"/>
<rect x="575.48" y="128.95" width="5.61" height="5.82" fill="#2a87e0"/>
<rect x="586.7" y="128.95" width="5.61" height="5.82" fill="#2a87e0"/>
<rect x="609.14" y="128.95" width="5.61" height="5.82" fill="#2a87e0"/>
<rect x="614.75" y="128.95" width="5.61" height="5.82" fill="#2a87e0"/>
<rect x="620.36" y="128.95" width="5.61" height="5.82" fill="#2a87e0"/>
<rect x="625.97" y="128.95" width="5.61" height="5.82" fill="#2a87e0"/>
<rect x="631.58" y="128.95" width="5.61" height="5.82" fill="#a9d3ef"/>
<rect x="637.19" y="128.95" width="5.61" height="5.82" fill="#2a87e0"/>
<rect x="642.8" y="128.95" width="5.61" height="5.82" fill="#2a87e0"/>
<rect x="648.41" y="128.95" width="5.61" height="5.82" fill="#2a87e0"/>
<rect x="654.02" y="128.95" width="5.61" height="5.82" fill="#2a87e0"/>
<rect x="659.63" y="128.95" width="5.61" height="5.82" fill="#2a87e0"/>
<rect x="665.24" y="128.95" width="5.61" height="5.82" fill="#2a87e0"/>
<rect x="670.85" y="128.95" width="5.61" height="5.82" fill="#2a87e0"/>
<rect x="648.41" y="134.76" width="5.61" height="5.82" fill="#a9d3ef"/>
<rect x="654.02" y="134.76" width="5.61" height="5.82" fill="#2a87e0"/>
<rect x="659.63" y="134.76" width="5.61" height="5.82" fill="#2a87e0"/>
<rect x="665.24" y="134.76" width="5.61" height="5.82" fill="#2a87e0"/>
<rect x="670.85" y="134.76" width="5.61" height="5.82" fill="#2a87e0"/>
<rect x="665.24" y="140.58" width="5.61" height="5.82" fill="#2a87e0"/>
<rect x="670.85" y="140.58" width="5.61" height="5.82" fill="#2a87e0"/>
<rect x="524.99" y="146.39" width="5.61" height="5.82" fill="#b0b8b2"/>
<rect x="530.6" y="146.39" width="5.61" height="5.82" fill="#b0b8b2"/>
<rect x="637.19" y="146.39" width="5.61" height="5.82" fill="#2a87e0"/>
<rect x="648.41" y="146.39" width="5.61" height="5.82" fill="#2a87e0"/>
<rect x="654.02" y="146.39" width="5.61" height="5.82" fill="#2a87e0"/>
<rect x="659.63" y="146.39" width="5.61" height="5.82" fill="#2a87e0"/>
<rect x="665.24" y="146.39" width="5.61" height="5.82" fill="#2a87e0"/>
<rect x="670.85" y="146.39" width="5.61" height="5.82" fill="#2a87e0"/>
<rect x="496.94" y="152.21" width="5.61" height="5.82" fill="#a9d3ef"/>
<rect x="530.6" y="152.21" width="5.61" height="5.82" fill="#2a87e0"/>
<rect x="541.82" y="152.21" width="5.61" height="5.82" fill="#a9d3ef"/>
<rect x="564.26" y="152.21" width="5.61" height="5.82" fill="#2a87e0"/>
<rect x="603.53" y="152.21" width="5.61" height="5.82" fill="#a9d3ef"/>
<rect x="609.14" y="152.21" width="5.61" height="5.82" fill="#a9d3ef"/>
<rect x="614.75" y="152.21" width="5.61" height="5.82" fill="#2a87e0"/>
<rect x="631.58" y="152.21" width="5.61" height="5.82" fill="#2a87e0"/>
<rect x="637.19" y="152.21" width="5.61" height="5.82" fill="#2a87e0"/>
<rect x="642.8" y="152.21" width="5.61" height="5.82" fill="#2a87e0"/>
<rect x="654.02" y="152.21" width="5.61" height="5.82" fill="#2a87e0"/>
<rect x="659.63" y="152.21" width="5.61" height="5.82" fill="#2a87e0"/>
<rect x="665.24" y="152.21" width="5.61" height="5.82" fill="#2a87e0"/>
<rect x="670.85" y="152.21" width="5.61" height="5.82" fill="#2a87e0"/>
<rect x="631.58" y="158.02" width="5.61" height="5.82" fill="#2a87e0"/>
<rect x="648.41" y="158.02" width="5.61" height="5.82" fill="#a9d3ef"/>
<rect x="654.02" y="158.02" width="5.61" height="5.82" fill="#2a87e0"/>
<rect x="659.63" y="158.02" width="5.61" height="5.82" fill="#2a87e0"/>
<rect x="665.24" y="158.02" width="5.61" height="5.82" fill="#2a87e0"/>
<rect x="670.85" y="158.02" width="5.61" height="5.82" fill="#2a87e0"/>
<rect x="474.5" y="163.84" width="5.61" height="5.82" fill="#a9d3ef"/>
<rect x="491.33" y="163.84" width="5.61" height="5.82" fill="#a9d3ef"/>
<rect x="508.16" y="163.84" width="5.61" height="5.82" fill="#a9d3ef"/>
<rect x="519.38" y="163.84" width="5.61" height="5.82" fill="#2a87e0"/>
<rect x="530.6" y="163.84" width="5.61" height="5.82" fill="#a9d3ef"/>
<rect x="536.21" y="163.84" width="5.61" height="5.82" fill="#a9d3ef"/>
<rect x="558.65" y="163.84" width="5.61" height="5.82" fill="#a9d3ef"/>
<rect x="564.26" y="163.84" width="5.61" height="5.82" fill="#a9d3ef"/>
<rect x="569.87" y="163.84" width="5.61" height="5.82" fill="#2a87e0"/>
<rect x="575.48" y="163.84" width="5.61" height="5.82" fill="#a9d3ef"/>
<rect x="586.7" y="163.84" width="5.61" height="5.82" fill="#a9d3ef"/>
<rect x="592.31" y="163.84" width="5.61" height="5.82" fill="#a9d3ef"/>
<rect x="597.92" y="163.84" width="5.61" height="5.82" fill="#a9d3ef"/>
<rect x="603.53" y="163.84" width="5.61" height="5.82" fill="#a9d3ef"/>
<rect x="609.14" y="163.84" width="5.61" height="5.82" fill="#a9d3ef"/>
<rect x="614.75" y="163.84" width="5.61" height="5.82" fill="#2a87e0"/>
<rect x="625.97" y="163.84" width="5.61" height="5.82" fill="#a9d3ef"/>
<rect x="631.58" y="163.84" width="5.61" height="5.82" fill="#a9d3ef"/>
<rect x="637.19" y="163.84" width="5.61" height="5.82" fill="#2a87e0"/>
<rect x="642.8" y="163.84" width="5.61" height="5.82" fill="#2a87e0"/>
<rect x="648.41" y="163.84" width="5.61" height="5.82" fill="#2a87e0"/>
<rect x="654.02" y="163.84" width="5.61" height="5.82" fill="#2a87e0"/>
<rect x="659.63" y="163.84" width="5.61" height="5.82" fill="#2a87e0"/>
<rect x="665.24" y="163.84" width="5.61" height="5.82" fill="#2a87e0"/>
<rect x="670.85" y="163.84" width="5.61" height="5.82" fill="#2a87e0"/>
<rect x="401.57" y="169.66" width="5.61" height="5.82" fill="#a9d3ef"/>
<rect x="407.18" y="169.66" width="5.61" height="5.82" fill="#b0b8b2"/>
<rect x="440.84" y="169.66" width="5.61" height="5.82" fill="#2a87e0"/>
<rect x="452.06" y="169.66" width="5.61" height="5.82" fill="#a9d3ef"/>
<rect x="480.11" y="169.66" width="5.61" height="5.82" fill="#a9d3ef"/>
<rect x="496.94" y="169.66" width="5.61" height="5.82" fill="#2a87e0"/>
<rect x="508.16" y="169.66" width="5.61" height="5.82" fill="#a9d3ef"/>
<rect x="524.99" y="169.66" width="5.61" height="5.82" fill="#2a87e0"/>
<rect x="536.21" y="169.66" width="5.61" height="5.82" fill="#a9d3ef"/>
<rect x="547.43" y="169.66" width="5.61" height="5.82" fill="#2a87e0"/>
<rect x="569.87" y="169.66" width="5.61" height="5.82" fill="#2a87e0"/>
<rect x="575.48" y="169.66" width="5.61" height="5.82" fill="#2a87e0"/>
<rect x="586.7" y="169.66" width="5.61" height="5.82" fill="#2a87e0"/>
<rect x="597.92" y="169.66" width="5.61" height="5.82" fill="#a9d3ef"/>
<rect x="603.53" y="169.66" width="5.61" height="5.82" fill="#2a87e0"/>
<rect x="609.14" y="169.66" width="5.61" height="5.82" fill="#2a87e0"/>
<rect x="614.75" y="169.66" width="5.61" height="5.82" fill="#2a87e0"/>
<rect x="620.36" y="169.66" width="5.61" height="5.82" fill="#2a87e0"/>
<rect x="625.97" y="169.66" width="5.61" height="5.82" fill="#2a87e0"/>
<rect x="631.58" y="169.66" width="5.61" height="5.82" fill="#2a87e0"/>
<rect x="637.19" y="169.66" width="5.61" height="5.82" fill="#2a87e0"/>
<rect x="642.8" y="169.66" width="5.61" height="5.82" fill="#2a87e0"/>
<rect x="648.41" y="169.66" width="5.61" height="5.82" fill="#a9d3ef"/>
<rect x="654.02" y="169.66" width="5.61" height="5.82" fill="#2a87e0"/>
<rect x="659.63" y="169.66" width="5.61" height="5.82" fill="#a9d3ef"/>
<rect x="665.24" y="169.66" width="5.61" height="5.82" fill="#2a87e0"/>
<rect x="670.85" y="169.66" width="5.61" height="5.82" fill="#2a87e0"/>
<rect x="429.62" y="175.47" width="5.61" height="5.82" fill="#a9d3ef"/>
<rect x="446.45" y="175.47" width="5.61" height="5.82" fill="#a9d3ef"/>
<rect x="452.06" y="175.47" width="5.61" height="5.82" fill="#a9d3ef"/>
<rect x="474.5" y="175.47" width="5.61" height="5.82" fill="#b0b8b2"/>
<rect x="485.72" y="175.47" width="5.61" height="5.82" fill="#2a87e0"/>
<rect x="502.55" y="175.47" width="5.61" height="5.82" fill="#2a87e0"/>
<rect x="508.16" y="175.47" width="5.61" height="5.82" fill="#2a87e0"/>
<rect x="513.77" y="175.47" width="5.61" height="5.82" fill="#a9d3ef"/>
<rect x="524.99" y="175.47" width="5.61" height="5.82" fill="#a9d3ef"/>
<rect x="553.04" y="175.47" width="5.61" height="5.82" fill="#a9d3ef"/>
<rect x="564.26" y="175.47" width="5.61" height="5.82" fill="#a9d3ef"/>
<rect x="575.48" y="175.47" width="5.61" height="5.82" fill="#a9d3ef"/>
<rect x="586.7" y="175.47" width="5.61" height="5.82" fill="#a9d3ef"/>
<rect x="603.53" y="175.47" width="5.61" height="5.82" fill="#a9d3ef"/>
<rect x="609.14" y="175.47" width="5.61" height="5.82" fill="#2a87e0"/>
<rect x="614.75" y="175.47" width="5.61" height="5.82" fill="#a9d3ef"/>
<rect x="620.36" y="175.47" width="5.61" height="5.82" fill="#a9d3ef"/>
<rect x="625.97" y="175.47" width="5.61" height="5.82" fill="#2a87e0"/>
<rect x="631.58" y="175.47" width="5.61" height="5.82" fill="#2a87e0"/>
<rect x="642.8" y="175.47" width="5.61" height="5.82" fill="#2a87e0"/>
<rect x="648.41" y="175.47" width="5.61" height="5.82" fill="#2a87e0"/>
<rect x="654.02" y="175.47" width="5.61" height="5.82" fill="#2a87e0"/>
<rect x="659.63" y="175.47" width="5.61" height="5.82" fill="#2a87e0"/>
<rect x="665.24" y="175.47" width="5.61" height="5.82" fill="#2a87e0"/>
<rect x="670.85" y="175.47" width="5.61" height="5.82" fill="#2a87e0"/>
<rect x="440.84" y="181.28" width="5.61" height="5.82" fill="#a9d3ef"/>
<rect x="480.11" y="181.28" width="5.61" height="5.82" fill="#a9d3ef"/>
<rect x="569.87" y="181.28" width="5.61" height="5.82" fill="#a9d3ef"/>
<rect x="614.75" y="181.28" width="5.61" height="5.82" fill="#a9d3ef"/>
<rect x="620.36" y="181.28" width="5.61" height="5.82" fill="#2a87e0"/>
<rect x="631.58" y="181.28" width="5.61" height="5.82" fill="#2a87e0"/>
<rect x="637.19" y="181.28" width="5.61" height="5.82" fill="#2a87e0"/>
<rect x="642.8" y="181.28" width="5.61" height="5.82" fill="#2a87e0"/>
<rect x="648.41" y="181.28" width="5.61" height="5.82" fill="#2a87e0"/>
<rect x="654.02" y="181.28" width="5.61" height="5.82" fill="#2a87e0"/>
<rect x="659.63" y="181.28" width="5.61" height="5.82" fill="#2a87e0"/>
<rect x="665.24" y="181.28" width="5.61" height="5.82" fill="#2a87e0"/>
<rect x="670.85" y="181.28" width="5.61" height="5.82" fill="#2a87e0"/>
<rect x="412.79" y="187.1" width="5.61" height="5.82" fill="#a9d3ef"/>
<rect x="452.06" y="187.1" width="5.61" height="5.82" fill="#a9d3ef"/>
<rect x="463.28" y="187.1" width="5.61" height="5.82" fill="#2a87e0"/>
<rect x="480.11" y="187.1" width="5.61" height="5.82" fill="#2a87e0"/>
<rect x="502.55" y="187.1" width="5.61" height="5.82" fill="#a9d3ef"/>
<rect x="508.16" y="187.1" width="5.61" height="5.82" fill="#a9d3ef"/>
<rect x="513.77" y="187.1" width="5.61" height="5.82" fill="#a9d3ef"/>
<rect x="536.21" y="187.1" width="5.61" height="5.82" fill="#a9d3ef"/>
<rect x="547.43" y="187.1" width="5.61" height="5.82" fill="#2a87e0"/>
<rect x="553.04" y="187.1" width="5.61" height="5.82" fill="#2a87e0"/>
<rect x="558.65" y="187.1" width="5.61" height="5.82" fill="#a9d3ef"/>
<rect x="586.7" y="187.1" width="5.61" height="5.82" fill="#2a87e0"/>
<rect x="603.53" y="187.1" width="5.61" height="5.82" fill="#a9d3ef"/>
<rect x="609.14" y="187.1" width="5.61" height="5.82" fill="#2a87e0"/>
<rect x="614.75" y="187.1" width="5.61" height="5.82" fill="#2a87e0"/>
<rect x="620.36" y="187.1" width="5.61" height="5.82" fill="#2a87e0"/>
<rect x="625.97" y="187.1" width="5.61" height="5.82" fill="#2a87e0"/>
<rect x="631.58" y="187.1" width="5.61" height="5.82" fill="#2a87e0"/>
<rect x="637.19" y="187.1" width="5.61" height="5.82" fill="#2a87e0"/>
<rect x="642.8" y="187.1" width="5.61" height="5.82" fill="#2a87e0"/>
<rect x="648.41" y="187.1" width="5.61" height="5.82" fill="#2a87e0"/>
<rect x="654.02" y="187.1" width="5.61" height="5.82" fill="#2a87e0"/>
<rect x="659.63" y="187.1" width="5.61" height="5.82" fill="#2a87e0"/>
<rect x="665.24" y="187.1" width="5.61" height="5.82" fill="#2a87e0"/>
<rect x="670.85" y="187.1" width="5.61" height="5.82" fill="#2a87e0"/>
<rect x="390.35" y="192.91" width="5.61" height="5.82" fill="#f4a8d2"/>
<rect x="468.89" y="192.91" width="5.61" height="5.82" fill="#2a87e0"/>
<rect x="519.38" y="192.91" width="5.61" height="5.82" fill="#2a87e0"/>
<rect x="524.99" y="192.91" width="5.61" height="5.82" fill="#2a87e0"/>
<rect x="536.21" y="192.91" width="5.61" height="5.82" fill="#2a87e0"/>
<rect x="541.82" y="192.91" width="5.61" height="5.82" fill="#b0b8b2"/>
<rect x="558.65" y="192.91" width="5.61" height="5.82" fill="#2a87e0"/>
<rect x="564.26" y="192.91" width="5.61" height="5.82" fill="#a9d3ef"/>
<rect x="569.87" y="192.91" width="5.61" height="5.82" fill="#2a87e0"/>
<rect x="575.48" y="192.91" width="5.61" height="5.82" fill="#2a87e0"/>
<rect x="586.7" y="192.91" width="5.61" height="5.82" fill="#2a87e0"/>
<rect x="603.53" y="192.91" width="5.61" height="5.82" fill="#2a87e0"/>
<rect x="609.14" y="192.91" width="5.61" height="5.82" fill="#a9d3ef"/>
<rect x="620.36" y="192.91" width="5.61" height="5.82" fill="#2a87e0"/>
<rect x="631.58" y="192.91" width="5.61" height="5.82" fill="#2a87e0"/>
<rect x="637.19" y="192.91" width="5.61" height="5.82" fill="#2a87e0"/>
<rect x="648.41" y="192.91" width="5.61" height="5.82" fill="#a9d3ef"/>
<rect x="654.02" y="192.91" width="5.61" height="5.82" fill="#2a87e0"/>
<rect x="665.24" y="192.91" width="5.61" height="5.82" fill="#2a87e0"/>
<rect x="670.85" y="192.91" width="5.61" height="5.82" fill="#2a87e0"/>
<rect x="530.6" y="198.73" width="5.61" height="5.82" fill="#b0b8b2"/>
<rect x="541.82" y="198.73" width="5.61" height="5.82" fill="#a9d3ef"/>
<rect x="637.19" y="198.73" width="5.61" height="5.82" fill="#2a87e0"/>
<rect x="642.8" y="198.73" width="5.61" height="5.82" fill="#2a87e0"/>
<rect x="654.02" y="198.73" width="5.61" height="5.82" fill="#a9d3ef"/>
<rect x="659.63" y="198.73" width="5.61" height="5.82" fill="#2a87e0"/>
<rect x="665.24" y="198.73" width="5.61" height="5.82" fill="#2a87e0"/>
<rect x="670.85" y="198.73" width="5.61" height="5.82" fill="#2a87e0"/>
<rect x="395.96" y="204.54" width="5.61" height="5.82" fill="#2a87e0"/>
<rect x="412.79" y="204.54" width="5.61" height="5.82" fill="#a9d3ef"/>
<rect x="424.01" y="204.54" width="5.61" height="5.82" fill="#2a87e0"/>
<rect x="429.62" y="204.54" width="5.61" height="5.82" fill="#2a87e0"/>
<rect x="435.23" y="204.54" width="5.61" height="5.82" fill="#2a87e0"/>
<rect x="446.45" y="204.54" width="5.61" height="5.82" fill="#a9d3ef"/>
<rect x="457.67" y="204.54" width="5.61" height="5.82" fill="#2a87e0"/>
<rect x="463.28" y="204.54" width="5.61" height="5.82" fill="#2a87e0"/>
<rect x="468.89" y="204.54" width="5.61" height="5.82" fill="#a9d3ef"/>
<rect x="474.5" y="204.54" width="5.61" height="5.82" fill="#2a87e0"/>
<rect x="480.11" y="204.54" width="5.61" height="5.82" fill="#a9d3ef"/>
<rect x="491.33" y="204.54" width="5.61" height="5.82" fill="#2a87e0"/>
<rect x="496.94" y="204.54" width="5.61" height="5.82" fill="#2a87e0"/>
<rect x="502.55" y="204.54" width="5.61" height="5.82" fill="#a9d3ef"/>
<rect x="508.16" y="204.54" width="5.61" height="5.82" fill="#a9d3ef"/>
<rect x="513.77" y="204.54" width="5.61" height="5.82" fill="#2a87e0"/>
<rect x="519.38" y="204.54" width="5.61" height="5.82" fill="#2a87e0"/>
<rect x="524.99" y="204.54" width="5.61" height="5.82" fill="#a9d3ef"/>
<rect x="530.6" y="204.54" width="5.61" height="5.82" fill="#2a87e0"/>
<rect x="536.21" y="204.54" width="5.61" height="5.82" fill="#2a87e0"/>
<rect x="541.82" y="204.54" width="5.61" height="5.82" fill="#2a87e0"/>
<rect x="547.43" y="204.54" width="5.61" height="5.82" fill="#2a87e0"/>
<rect x="558.65" y="204.54" width="5.61" height="5.82" fill="#2a87e0"/>
<rect x="564.26" y="204.54" width="5.61" height="5.82" fill="#2a87e0"/>
<rect x="569.87" y="204.54" width="5.61" height="5.82" fill="#2a87e0"/>
<rect x="575.48" y="204.54" width="5.61" height="5.82" fill="#2a87e0"/>
<rect x="581.09" y="204.54" width="5.61" height="5.82" fill="#2a87e0"/>
<rect x="586.7" y="204.54" width="5.61" height="5.82" fill="#2a87e0"/>
<rect x="592.31" y="204.54" width="5.61" height="5.82" fill="#a9d3ef"/>
<rect x="597.92" y="204.54" width="5.61" height="5.82" fill="#2a87e0"/>
<rect x="603.53" y="204.54" width="5.61" height="5.82" fill="#2a87e0"/>
<rect x="609.14" y="204.54" width="5.61" height="5.82" fill="#2a87e0"/>
<rect x="614.75" y="204.54" width="5.61" height="5.82" fill="#2a87e0"/>
<rect x="620.36" y="204.54" width="5.61" height="5.82" fill="#a9d3ef"/>
<rect x="625.97" y="204.54" width="5.61" height="5.82" fill="#2a87e0"/>
<rect x="631.58" y="204.54" width="5.61" height="5.82" fill="#2a87e0"/>
<rect x="637.19" y="204.54" width="5.61" height="5.82" fill="#a9d3ef"/>
<rect x="642.8" y="204.54" width="5.61" height="5.82" fill="#2a87e0"/>
<rect x="648.41" y="204.54" width="5.61" height="5.82" fill="#2a87e0"/>
<rect x="654.02" y="204.54" width="5.61" height="5.82" fill="#2a87e0"/>
<rect x="659.63" y="204.54" width="5.61" height="5.82" fill="#2a87e0"/>
<rect x="665.24" y="204.54" width="5.61" height="5.82" fill="#2a87e0"/>
<rect x="670.85" y="204.54" width="5.61" height="5.82" fill="#2a87e0"/>
<rect x="418.4" y="210.36" width="5.61" height="5.82" fill="#b0b8b2"/>
<rect x="457.67" y="210.36" width="5.61" height="5.82" fill="#b0b8b2"/>
<rect x="468.89" y="210.36" width="5.61" height="5.82" fill="#b0b8b2"/>
<rect x="519.38" y="210.36" width="5.61" height="5.82" fill="#b0b8b2"/>
<rect x="547.43" y="210.36" width="5.61" height="5.82" fill="#b0b8b2"/>
<rect x="569.87" y="210.36" width="5.61" height="5.82" fill="#b0b8b2"/>
<rect x="586.7" y="210.36" width="5.61" height="5.82" fill="#2a87e0"/>
<rect x="603.53" y="210.36" width="5.61" height="5.82" fill="#2a87e0"/>
<rect x="609.14" y="210.36" width="5.61" height="5.82" fill="#b0b8b2"/>
<rect x="614.75" y="210.36" width="5.61" height="5.82" fill="#a9d3ef"/>
<rect x="620.36" y="210.36" width="5.61" height="5.82" fill="#b0b8b2"/>
<rect x="637.19" y="210.36" width="5.61" height="5.82" fill="#2a87e0"/>
<rect x="642.8" y="210.36" width="5.61" height="5.82" fill="#2a87e0"/>
<rect x="648.41" y="210.36" width="5.61" height="5.82" fill="#2a87e0"/>
<rect x="654.02" y="210.36" width="5.61" height="5.82" fill="#a9d3ef"/>
<rect x="659.63" y="210.36" width="5.61" height="5.82" fill="#2a87e0"/>
<rect x="665.24" y="210.36" width="5.61" height="5.82" fill="#2a87e0"/>
<rect x="670.85" y="210.36" width="5.61" height="5.82" fill="#2a87e0"/>
<rect x="502.55" y="216.18" width="5.61" height="5.82" fill="#2a87e0"/>
<rect x="508.16" y="216.18" width="5.61" height="5.82" fill="#2a87e0"/>
<rect x="553.04" y="216.18" width="5.61" height="5.82" fill="#2a87e0"/>
<rect x="597.92" y="216.18" width="5.61" height="5.82" fill="#2a87e0"/>
<rect x="603.53" y="216.18" width="5.61" height="5.82" fill="#2a87e0"/>
<rect x="620.36" y="216.18" width="5.61" height="5.82" fill="#a9d3ef"/>
<rect x="625.97" y="216.18" width="5.61" height="5.82" fill="#2a87e0"/>
<rect x="631.58" y="216.18" width="5.61" height="5.82" fill="#2a87e0"/>
<rect x="637.19" y="216.18" width="5.61" height="5.82" fill="#2a87e0"/>
<rect x="642.8" y="216.18" width="5.61" height="5.82" fill="#2a87e0"/>
<rect x="648.41" y="216.18" width="5.61" height="5.82" fill="#2a87e0"/>
<rect x="654.02" y="216.18" width="5.61" height="5.82" fill="#2a87e0"/>
<rect x="659.63" y="216.18" width="5.61" height="5.82" fill="#2a87e0"/>
<rect x="665.24" y="216.18" width="5.61" height="5.82" fill="#2a87e0"/>
<rect x="670.85" y="216.18" width="5.61" height="5.82" fill="#a9d3ef"/>
<rect x="614.75" y="221.99" width="5.61" height="5.82" fill="#2a87e0"/>
<rect x="631.58" y="221.99" width="5.61" height="5.82" fill="#a9d3ef"/>
<rect x="637.19" y="221.99" width="5.61" height="5.82" fill="#2a87e0"/>
<rect x="642.8" y="221.99" width="5.61" height="5.82" fill="#2a87e0"/>
<rect x="648.41" y="221.99" width="5.61" height="5.82" fill="#2a87e0"/>
<rect x="654.02" y="221.99" width="5.61" height="5.82" fill="#2a87e0"/>
<rect x="659.63" y="221.99" width="5.61" height="5.82" fill="#2a87e0"/>
<rect x="665.24" y="221.99" width="5.61" height="5.82" fill="#2a87e0"/>
<rect x="670.85" y="221.99" width="5.61" height="5.82" fill="#2a87e0"/>
<rect x="390.35" y="227.81" width="5.61" height="5.82" fill="#a9d3ef"/>
<rect x="412.79" y="227.81" width="5.61" height="5.82" fill="#a9d3ef"/>
<rect x="424.01" y="227.81" width="5.61" height="5.82" fill="#2a87e0"/>
<rect x="429.62" y="227.81" width="5.61" height="5.82" fill="#a9d3ef"/>
<rect x="435.23" y="227.81" width="5.61" height="5.82" fill="#a9d3ef"/>
<rect x="440.84" y="227.81" width="5.61" height="5.82" fill="#a9d3ef"/>
<rect x="446.45" y="227.81" width="5.61" height="5.82" fill="#a9d3ef"/>
<rect x="457.67" y="227.81" width="5.61" height="5.82" fill="#a9d3ef"/>
<rect x="463.28" y="227.81" width="5.61" height="5.82" fill="#a9d3ef"/>
<rect x="468.89" y="227.81" width="5.61" height="5.82" fill="#2a87e0"/>
<rect x="474.5" y="227.81" width="5.61" height="5.82" fill="#2a87e0"/>
<rect x="480.11" y="227.81" width="5.61" height="5.82" fill="#a9d3ef"/>
<rect x="485.72" y="227.81" width="5.61" height="5.82" fill="#2a87e0"/>
<rect x="491.33" y="227.81" width="5.61" height="5.82" fill="#2a87e0"/>
<rect x="502.55" y="227.81" width="5.61" height="5.82" fill="#2a87e0"/>
<rect x="513.77" y="227.81" width="5.61" height="5.82" fill="#a9d3ef"/>
<rect x="519.38" y="227.81" width="5.61" height="5.82" fill="#2a87e0"/>
<rect x="524.99" y="227.81" width="5.61" height="5.82" fill="#2a87e0"/>
<rect x="530.6" y="227.81" width="5.61" height="5.82" fill="#2a87e0"/>
<rect x="536.21" y="227.81" width="5.61" height="5.82" fill="#2a87e0"/>
<rect x="541.82" y="227.81" width="5.61" height="5.82" fill="#a9d3ef"/>
<rect x="547.43" y="227.81" width="5.61" height="5.82" fill="#2a87e0"/>
<rect x="553.04" y="227.81" width="5.61" height="5.82" fill="#2a87e0"/>
<rect x="558.65" y="227.81" width="5.61" height="5.82" fill="#2a87e0"/>
<rect x="564.26" y="227.81" width="5.61" height="5.82" fill="#2a87e0"/>
<rect x="569.87" y="227.81" width="5.61" height="5.82" fill="#2a87e0"/>
<rect x="575.48" y="227.81" width="5.61" height="5.82" fill="#2a87e0"/>
<rect x="581.09" y="227.81" width="5.61" height="5.82" fill="#2a87e0"/>
<rect x="586.7" y="227.81" width="5.61" height="5.82" fill="#2a87e0"/>
<rect x="592.31" y="227.81" width="5.61" height="5.82" fill="#a9d3ef"/>
<rect x="603.53" y="227.81" width="5.61" height="5.82" fill="#2a87e0"/>
<rect x="609.14" y="227.81" width="5.61" height="5.82" fill="#2a87e0"/>
<rect x="614.75" y="227.81" width="5.61" height="5.82" fill="#2a87e0"/>
<rect x="620.36" y="227.81" width="5.61" height="5.82" fill="#2a87e0"/>
<rect x="625.97" y="227.81" width="5.61" height="5.82" fill="#2a87e0"/>
<rect x="631.58" y="227.81" width="5.61" height="5.82" fill="#2a87e0"/>
<rect x="637.19" y="227.81" width="5.61" height="5.82" fill="#2a87e0"/>
<rect x="642.8" y="227.81" width="5.61" height="5.82" fill="#2a87e0"/>
<rect x="648.41" y="227.81" width="5.61" height="5.82" fill="#2a87e0"/>
<rect x="654.02" y="227.81" width="5.61" height="5.82" fill="#2a87e0"/>
<rect x="659.63" y="227.81" width="5.61" height="5.82" fill="#2a87e0"/>
<rect x="665.24" y="227.81" width="5.61" height="5.82" fill="#2a87e0"/>
<rect x="670.85" y="227.81" width="5.61" height="5.82" fill="#2a87e0"/>
<rect x="648.41" y="233.62" width="5.61" height="5.82" fill="#b0b8b2"/>
<rect x="654.02" y="233.62" width="5.61" height="5.82" fill="#a9d3ef"/>
<rect x="659.63" y="233.62" width="5.61" height="5.82" fill="#2a87e0"/>
<rect x="665.24" y="233.62" width="5.61" height="5.82" fill="#2a87e0"/>
<rect x="670.85" y="233.62" width="5.61" height="5.82" fill="#2a87e0"/>
<rect x="367.91" y="239.44" width="5.61" height="5.82" fill="#b0b8b2"/>
<rect x="614.75" y="239.44" width="5.61" height="5.82" fill="#2a87e0"/>
<rect x="631.58" y="239.44" width="5.61" height="5.82" fill="#2a87e0"/>
<rect x="637.19" y="239.44" width="5.61" height="5.82" fill="#2a87e0"/>
<rect x="642.8" y="239.44" width="5.61" height="5.82" fill="#2a87e0"/>
<rect x="648.41" y="239.44" width="5.61" height="5.82" fill="#2a87e0"/>
<rect x="654.02" y="239.44" width="5.61" height="5.82" fill="#2a87e0"/>
<rect x="659.63" y="239.44" width="5.61" height="5.82" fill="#2a87e0"/>
<rect x="665.24" y="239.44" width="5.61" height="5.82" fill="#2a87e0"/>
<rect x="670.85" y="239.44" width="5.61" height="5.82" fill="#2a87e0"/>
<path d="M362.3 128.95V245.25M367.91 128.95V245.25M373.52 128.95V245.25M379.13 128.95V245.25M384.74 128.95V245.25M390.35 128.95V245.25M395.96 128.95V245.25M401.57 128.95V245.25M407.18 128.95V245.25M412.79 128.95V245.25M418.4 128.95V245.25M424.01 128.95V245.25M429.62 128.95V245.25M435.23 128.95V245.25M440.84 128.95V245.25M446.45 128.95V245.25M452.06 128.95V245.25M457.67 128.95V245.25M463.28 128.95V245.25M468.89 128.95V245.25M474.5 128.95V245.25M480.11 128.95V245.25M485.72 128.95V245.25M491.33 128.95V245.25M496.94 128.95V245.25M502.55 128.95V245.25M508.16 128.95V245.25M513.77 128.95V245.25M519.38 128.95V245.25M524.99 128.95V245.25M530.6 128.95V245.25M536.21 128.95V245.25M541.82 128.95V245.25M547.43 128.95V245.25M553.04 128.95V245.25M558.65 128.95V245.25M564.26 128.95V245.25M569.87 128.95V245.25M575.48 128.95V245.25M581.09 128.95V245.25M586.7 128.95V245.25M592.31 128.95V245.25M597.92 128.95V245.25M603.53 128.95V245.25M609.14 128.95V245.25M614.75 128.95V245.25M620.36 128.95V245.25M625.97 128.95V245.25M631.58 128.95V245.25M637.19 128.95V245.25M642.8 128.95V245.25M648.41 128.95V245.25M654.02 128.95V245.25M659.63 128.95V245.25M665.24 128.95V245.25M670.85 128.95V245.25M676.46 128.95V245.25M362.3 128.95H676.46M362.3 134.76H676.46M362.3 140.58H676.46M362.3 146.39H676.46M362.3 152.21H676.46M362.3 158.02H676.46M362.3 163.84H676.46M362.3 169.66H676.46M362.3 175.47H676.46M362.3 181.28H676.46M362.3 187.1H676.46M362.3 192.91H676.46M362.3 198.73H676.46M362.3 204.54H676.46M362.3 210.36H676.46M362.3 216.18H676.46M362.3 221.99H676.46M362.3 227.81H676.46M362.3 233.62H676.46M362.3 239.44H676.46M362.3 245.25H676.46" stroke="#fff" stroke-opacity="0.45" stroke-width="0.45" fill="none"/>
<rect x="526.59" y="149.35" width="3.0" height="0.9" fill="#303030"/>
<rect x="532.2" y="149.35" width="3.0" height="0.9" fill="#303030"/>
<rect x="408.79" y="172.61" width="3.0" height="0.9" fill="#303030"/>
<rect x="476.11" y="178.43" width="3.0" height="0.9" fill="#303030"/>
<rect x="543.42" y="195.87" width="3.0" height="0.9" fill="#303030"/>
<rect x="532.2" y="201.69" width="3.0" height="0.9" fill="#303030"/>
<rect x="420.01" y="213.32" width="3.0" height="0.9" fill="#303030"/>
<rect x="459.28" y="213.32" width="3.0" height="0.9" fill="#303030"/>
<rect x="470.5" y="213.32" width="3.0" height="0.9" fill="#303030"/>
<rect x="520.98" y="213.32" width="3.0" height="0.9" fill="#303030"/>
<rect x="549.03" y="213.32" width="3.0" height="0.9" fill="#303030"/>
<rect x="571.47" y="213.32" width="3.0" height="0.9" fill="#303030"/>
<rect x="610.74" y="213.32" width="3.0" height="0.9" fill="#303030"/>
<rect x="621.96" y="213.32" width="3.0" height="0.9" fill="#303030"/>
<rect x="650.01" y="236.58" width="3.0" height="0.9" fill="#303030"/>
<rect x="369.52" y="242.39" width="3.0" height="0.9" fill="#303030"/>
<text transform="translate(37.8 134.06) scale(1 1.13)" font-size="4.1" fill="#303030" stroke="#303030" stroke-width="0.14" text-anchor="end">API</text>
<text transform="translate(37.8 139.87) scale(1 1.13)" font-size="4.1" fill="#303030" stroke="#303030" stroke-width="0.14" text-anchor="end">API (v2)</text>
<text transform="translate(37.8 145.69) scale(1 1.13)" font-size="4.1" fill="#303030" stroke="#303030" stroke-width="0.14" text-anchor="end">BioHit</text>
<text transform="translate(37.8 151.5) scale(1 1.13)" font-size="4.1" fill="#303030" stroke="#303030" stroke-width="0.14" text-anchor="end">BTNX</text>
<text transform="translate(37.8 157.32) scale(1 1.13)" font-size="4.1" fill="#303030" stroke="#303030" stroke-width="0.14" text-anchor="end">Camtech</text>
<text transform="translate(37.8 163.13) scale(1 1.13)" font-size="4.1" fill="#303030" stroke="#303030" stroke-width="0.14" text-anchor="end">CareHealth</text>
<text transform="translate(37.8 168.95) scale(1 1.13)" font-size="4.1" fill="#303030" stroke="#303030" stroke-width="0.14" text-anchor="end">Cellex</text>
<text transform="translate(37.8 174.76) scale(1 1.13)" font-size="4.1" fill="#303030" stroke="#303030" stroke-width="0.14" text-anchor="end">Edinburgh</text>
<text transform="translate(37.8 180.58) scale(1 1.13)" font-size="4.1" fill="#303030" stroke="#303030" stroke-width="0.14" text-anchor="end">Genobio</text>
<text transform="translate(37.8 186.39) scale(1 1.13)" font-size="4.1" fill="#303030" stroke="#303030" stroke-width="0.14" text-anchor="end">InTec</text>
<text transform="translate(37.8 192.21) scale(1 1.13)" font-size="4.1" fill="#303030" stroke="#303030" stroke-width="0.14" text-anchor="end">KHB</text>
<text transform="translate(37.8 198.02) scale(1 1.13)" font-size="4.1" fill="#303030" stroke="#303030" stroke-width="0.14" text-anchor="end">Lumiquick</text>
<text transform="translate(37.8 203.84) scale(1 1.13)" font-size="4.1" fill="#303030" stroke="#303030" stroke-width="0.14" text-anchor="end">Oranasis</text>
<text transform="translate(37.8 209.65) scale(1 1.13)" font-size="4.1" fill="#303030" stroke="#303030" stroke-width="0.14" text-anchor="end">OZO</text>
<text transform="translate(37.8 215.47) scale(1 1.13)" font-size="4.1" fill="#303030" stroke="#303030" stroke-width="0.14" text-anchor="end">Phamatech</text>
<text transform="translate(37.8 221.28) scale(1 1.13)" font-size="4.1" fill="#303030" stroke="#303030" stroke-width="0.14" text-anchor="end">Ray Biotech</text>
<text transform="translate(37.8 227.1) scale(1 1.13)" font-size="4.1" fill="#303030" stroke="#303030" stroke-width="0.14" text-anchor="end">Ray Biotech (v2)</text>
<text transform="translate(37.8 232.91) scale(1 1.13)" font-size="4.1" fill="#303030" stroke="#303030" stroke-width="0.14" text-anchor="end">U2U</text>
<text transform="translate(37.8 238.73) scale(1 1.13)" font-size="4.1" fill="#303030" stroke="#303030" stroke-width="0.14" text-anchor="end">Vivachek</text>
<text transform="translate(37.8 244.54) scale(1 1.13)" font-size="4.1" fill="#303030" stroke="#303030" stroke-width="0.14" text-anchor="end">Zhuhai Livzon</text>
<path d="M39.0 131.86H40.9M39.0 137.67H40.9M39.0 143.49H40.9M39.0 149.3H40.9M39.0 155.12H40.9M39.0 160.93H40.9M39.0 166.75H40.9M39.0 172.56H40.9M39.0 178.38H40.9M39.0 184.19H40.9M39.0 190.01H40.9M39.0 195.82H40.9M39.0 201.64H40.9M39.0 207.45H40.9M39.0 213.27H40.9M39.0 219.08H40.9M39.0 224.9H40.9M39.0 230.71H40.9M39.0 236.53H40.9M39.0 242.34H40.9" stroke="#222" stroke-width="0.8"/>
<rect x="41.15" y="250.8" width="258.06" height="28" fill="#e9ecec"/>
<path d="M43.95 250.8V278.8M49.56 250.8V278.8M55.17 250.8V278.8M60.79 250.8V278.8M66.4 250.8V278.8M72.01 250.8V278.8M77.62 250.8V278.8M83.23 250.8V278.8M88.84 250.8V278.8M94.45 250.8V278.8M100.06 250.8V278.8M105.67 250.8V278.8M111.28 250.8V278.8M116.89 250.8V278.8M122.5 250.8V278.8M128.11 250.8V278.8M133.72 250.8V278.8M139.33 250.8V278.8M144.94 250.8V278.8M150.55 250.8V278.8M156.16 250.8V278.8M161.77 250.8V278.8M167.38 250.8V278.8M172.99 250.8V278.8M178.6 250.8V278.8M184.21 250.8V278.8M189.82 250.8V278.8M195.43 250.8V278.8M201.04 250.8V278.8M206.65 250.8V278.8M212.26 250.8V278.8M217.87 250.8V278.8M223.48 250.8V278.8M229.09 250.8V278.8M234.7 250.8V278.8M240.31 250.8V278.8M245.92 250.8V278.8M251.53 250.8V278.8M257.13 250.8V278.8M262.75 250.8V278.8M268.36 250.8V278.8M273.97 250.8V278.8M279.57 250.8V278.8M285.19 250.8V278.8M290.8 250.8V278.8M296.41 250.8V278.8M41.15 277.1H299.21M41.15 271.27H299.21M41.15 265.44H299.21M41.15 259.61H299.21M41.15 253.78H299.21" stroke="#fff" stroke-width="0.8" fill="none"/>
<rect x="41.55" y="276" width="4.8" height="1.1" fill="#f6b4c4" stroke="#fff" stroke-width="0.5" stroke-opacity="0.5"/>
<rect x="58.39" y="274.2" width="4.8" height="2.9" fill="#f5486f" stroke="#fff" stroke-width="0.5" stroke-opacity="0.5"/>
<rect x="64" y="272.9" width="4.8" height="4.2" fill="#f5486f" stroke="#fff" stroke-width="0.5" stroke-opacity="0.5"/>
<rect x="75.22" y="272.9" width="4.8" height="4.2" fill="#f5486f" stroke="#fff" stroke-width="0.5" stroke-opacity="0.5"/>
<rect x="80.83" y="276" width="4.8" height="1.1" fill="#f6b4c4" stroke="#fff" stroke-width="0.5" stroke-opacity="0.5"/>
<rect x="103.27" y="275.8" width="4.8" height="1.3" fill="#f5486f" stroke="#fff" stroke-width="0.5" stroke-opacity="0.5"/>
<rect x="131.31" y="276.6" width="4.8" height="0.5" fill="#f6b4c4" stroke="#fff" stroke-width="0.5" stroke-opacity="0.5"/>
<rect x="164.97" y="276.6" width="4.8" height="0.5" fill="#f6b4c4" stroke="#fff" stroke-width="0.5" stroke-opacity="0.5"/>
<rect x="181.81" y="276.3" width="4.8" height="0.8" fill="#f6b4c4" stroke="#fff" stroke-width="0.5" stroke-opacity="0.5"/>
<rect x="204.25" y="276" width="4.8" height="1.1" fill="#f5486f" stroke="#fff" stroke-width="0.5" stroke-opacity="0.5"/>
<rect x="226.69" y="274.6" width="4.8" height="2.5" fill="#f5486f" stroke="#fff" stroke-width="0.5" stroke-opacity="0.5"/>
<rect x="237.91" y="275.9" width="4.8" height="1.2" fill="#f5486f" stroke="#fff" stroke-width="0.5" stroke-opacity="0.5"/>
<rect x="271.57" y="276" width="4.8" height="1.1" fill="#f6b4c4" stroke="#fff" stroke-width="0.5" stroke-opacity="0.5"/>
<rect x="277.18" y="271.8" width="4.8" height="5.3" fill="#f5486f" stroke="#fff" stroke-width="0.5" stroke-opacity="0.5"/>
<rect x="302.6" y="250.8" width="56.1" height="28" fill="#e9ecec"/>
<path d="M305.41 250.8V278.8M311.02 250.8V278.8M316.63 250.8V278.8M322.24 250.8V278.8M327.85 250.8V278.8M333.46 250.8V278.8M339.07 250.8V278.8M344.68 250.8V278.8M350.29 250.8V278.8M355.9 250.8V278.8M302.6 277.1H358.7M302.6 271.27H358.7M302.6 265.44H358.7M302.6 259.61H358.7M302.6 253.78H358.7" stroke="#fff" stroke-width="0.8" fill="none"/>
<rect x="303.01" y="270" width="4.8" height="7.1" fill="#f5486f" stroke="#fff" stroke-width="0.5" stroke-opacity="0.5"/>
<rect x="362.3" y="250.8" width="314.16" height="28" fill="#e9ecec"/>
<path d="M365.11 250.8V278.8M370.72 250.8V278.8M376.33 250.8V278.8M381.94 250.8V278.8M387.55 250.8V278.8M393.16 250.8V278.8M398.77 250.8V278.8M404.38 250.8V278.8M409.99 250.8V278.8M415.6 250.8V278.8M421.21 250.8V278.8M426.81 250.8V278.8M432.43 250.8V278.8M438.04 250.8V278.8M443.65 250.8V278.8M449.26 250.8V278.8M454.87 250.8V278.8M460.48 250.8V278.8M466.09 250.8V278.8M471.69 250.8V278.8M477.31 250.8V278.8M482.92 250.8V278.8M488.53 250.8V278.8M494.14 250.8V278.8M499.75 250.8V278.8M505.36 250.8V278.8M510.97 250.8V278.8M516.57 250.8V278.8M522.18 250.8V278.8M527.79 250.8V278.8M533.4 250.8V278.8M539.01 250.8V278.8M544.62 250.8V278.8M550.24 250.8V278.8M555.84 250.8V278.8M561.46 250.8V278.8M567.06 250.8V278.8M572.67 250.8V278.8M578.28 250.8V278.8M583.89 250.8V278.8M589.5 250.8V278.8M595.12 250.8V278.8M600.73 250.8V278.8M606.33 250.8V278.8M611.94 250.8V278.8M617.55 250.8V278.8M623.16 250.8V278.8M628.77 250.8V278.8M634.38 250.8V278.8M640 250.8V278.8M645.6 250.8V278.8M651.22 250.8V278.8M656.82 250.8V278.8M662.44 250.8V278.8M668.04 250.8V278.8M673.65 250.8V278.8M362.3 277.1H676.46M362.3 271.27H676.46M362.3 265.44H676.46M362.3 259.61H676.46M362.3 253.78H676.46" stroke="#fff" stroke-width="0.8" fill="none"/>
<rect x="362.71" y="261" width="4.8" height="16.1" fill="#f5486f" stroke="#fff" stroke-width="0.5" stroke-opacity="0.5"/>
<rect x="368.32" y="255.9" width="4.8" height="21.2" fill="#f5486f" stroke="#fff" stroke-width="0.5" stroke-opacity="0.5"/>
<rect x="373.93" y="253.1" width="4.8" height="24" fill="#f5486f" stroke="#fff" stroke-width="0.5" stroke-opacity="0.5"/>
<rect x="379.54" y="253.1" width="4.8" height="24" fill="#f5486f" stroke="#fff" stroke-width="0.5" stroke-opacity="0.5"/>
<rect x="385.15" y="253.1" width="4.8" height="24" fill="#f5486f" stroke="#fff" stroke-width="0.5" stroke-opacity="0.5"/>
<rect x="390.76" y="260.8" width="4.8" height="16.3" fill="#f5486f" stroke="#fff" stroke-width="0.5" stroke-opacity="0.5"/>
<rect x="396.37" y="266" width="4.8" height="11.1" fill="#f5486f" stroke="#fff" stroke-width="0.5" stroke-opacity="0.5"/>
<rect x="401.98" y="255" width="4.8" height="22.1" fill="#f5486f" stroke="#fff" stroke-width="0.5" stroke-opacity="0.5"/>
<rect x="407.59" y="253.1" width="4.8" height="24" fill="#f5486f" stroke="#fff" stroke-width="0.5" stroke-opacity="0.5"/>
<rect x="413.2" y="262.9" width="4.8" height="14.2" fill="#f5486f" stroke="#fff" stroke-width="0.5" stroke-opacity="0.5"/>
<rect x="418.81" y="271.9" width="4.8" height="5.2" fill="#f5486f" stroke="#fff" stroke-width="0.5" stroke-opacity="0.5"/>
<rect x="424.42" y="253.1" width="4.8" height="24" fill="#f5486f" stroke="#fff" stroke-width="0.5" stroke-opacity="0.5"/>
<rect x="430.03" y="262.1" width="4.8" height="15" fill="#f5486f" stroke="#fff" stroke-width="0.5" stroke-opacity="0.5"/>
<rect x="435.64" y="253.1" width="4.8" height="24" fill="#f5486f" stroke="#fff" stroke-width="0.5" stroke-opacity="0.5"/>
<rect x="441.25" y="253.1" width="4.8" height="24" fill="#f5486f" stroke="#fff" stroke-width="0.5" stroke-opacity="0.5"/>
<rect x="446.86" y="253.1" width="4.8" height="24" fill="#f5486f" stroke="#fff" stroke-width="0.5" stroke-opacity="0.5"/>
<rect x="452.47" y="258.8" width="4.8" height="18.3" fill="#f5486f" stroke="#fff" stroke-width="0.5" stroke-opacity="0.5"/>
<rect x="458.08" y="253.1" width="4.8" height="24" fill="#f5486f" stroke="#fff" stroke-width="0.5" stroke-opacity="0.5"/>
<rect x="463.69" y="253.1" width="4.8" height="24" fill="#f5486f" stroke="#fff" stroke-width="0.5" stroke-opacity="0.5"/>
<rect x="469.3" y="253.1" width="4.8" height="24" fill="#f5486f" stroke="#fff" stroke-width="0.5" stroke-opacity="0.5"/>
<rect x="474.91" y="253.1" width="4.8" height="24" fill="#f5486f" stroke="#fff" stroke-width="0.5" stroke-opacity="0.5"/>
<rect x="480.52" y="258.1" width="4.8" height="19" fill="#f5486f" stroke="#fff" stroke-width="0.5" stroke-opacity="0.5"/>
<rect x="486.13" y="265.9" width="4.8" height="11.2" fill="#f5486f" stroke="#fff" stroke-width="0.5" stroke-opacity="0.5"/>
<rect x="491.74" y="253.1" width="4.8" height="24" fill="#f5486f" stroke="#fff" stroke-width="0.5" stroke-opacity="0.5"/>
<rect x="497.35" y="261" width="4.8" height="16.1" fill="#f5486f" stroke="#fff" stroke-width="0.5" stroke-opacity="0.5"/>
<rect x="502.96" y="262.7" width="4.8" height="14.4" fill="#f5486f" stroke="#fff" stroke-width="0.5" stroke-opacity="0.5"/>
<rect x="508.57" y="253.1" width="4.8" height="24" fill="#f5486f" stroke="#fff" stroke-width="0.5" stroke-opacity="0.5"/>
<rect x="514.17" y="267.9" width="4.8" height="9.2" fill="#f5486f" stroke="#fff" stroke-width="0.5" stroke-opacity="0.5"/>
<rect x="519.78" y="253.1" width="4.8" height="24" fill="#f5486f" stroke="#fff" stroke-width="0.5" stroke-opacity="0.5"/>
<rect x="525.39" y="258.1" width="4.8" height="19" fill="#f5486f" stroke="#fff" stroke-width="0.5" stroke-opacity="0.5"/>
<rect x="531" y="257.4" width="4.8" height="19.7" fill="#f5486f" stroke="#fff" stroke-width="0.5" stroke-opacity="0.5"/>
<rect x="536.62" y="253.1" width="4.8" height="24" fill="#f5486f" stroke="#fff" stroke-width="0.5" stroke-opacity="0.5"/>
<rect x="542.23" y="271.4" width="4.8" height="5.7" fill="#f5486f" stroke="#fff" stroke-width="0.5" stroke-opacity="0.5"/>
<rect x="547.84" y="253.1" width="4.8" height="24" fill="#f5486f" stroke="#fff" stroke-width="0.5" stroke-opacity="0.5"/>
<rect x="553.44" y="253.1" width="4.8" height="24" fill="#f5486f" stroke="#fff" stroke-width="0.5" stroke-opacity="0.5"/>
<rect x="559.06" y="253.1" width="4.8" height="24" fill="#f5486f" stroke="#fff" stroke-width="0.5" stroke-opacity="0.5"/>
<rect x="564.66" y="253.1" width="4.8" height="24" fill="#f5486f" stroke="#fff" stroke-width="0.5" stroke-opacity="0.5"/>
<rect x="570.27" y="253.1" width="4.8" height="24" fill="#f5486f" stroke="#fff" stroke-width="0.5" stroke-opacity="0.5"/>
<rect x="575.88" y="253.1" width="4.8" height="24" fill="#f5486f" stroke="#fff" stroke-width="0.5" stroke-opacity="0.5"/>
<rect x="581.5" y="270" width="4.8" height="7.1" fill="#f5486f" stroke="#fff" stroke-width="0.5" stroke-opacity="0.5"/>
<rect x="587.11" y="262.2" width="4.8" height="14.9" fill="#f5486f" stroke="#fff" stroke-width="0.5" stroke-opacity="0.5"/>
<rect x="592.72" y="259.1" width="4.8" height="18" fill="#f5486f" stroke="#fff" stroke-width="0.5" stroke-opacity="0.5"/>
<rect x="598.33" y="270.6" width="4.8" height="6.5" fill="#f5486f" stroke="#fff" stroke-width="0.5" stroke-opacity="0.5"/>
<rect x="603.93" y="268.2" width="4.8" height="8.9" fill="#f5486f" stroke="#fff" stroke-width="0.5" stroke-opacity="0.5"/>
<rect x="609.54" y="264.1" width="4.8" height="13" fill="#f5486f" stroke="#fff" stroke-width="0.5" stroke-opacity="0.5"/>
<rect x="615.15" y="256.1" width="4.8" height="21" fill="#f5486f" stroke="#fff" stroke-width="0.5" stroke-opacity="0.5"/>
<rect x="620.76" y="253.1" width="4.8" height="24" fill="#f5486f" stroke="#fff" stroke-width="0.5" stroke-opacity="0.5"/>
<rect x="626.38" y="261.3" width="4.8" height="15.8" fill="#f5486f" stroke="#fff" stroke-width="0.5" stroke-opacity="0.5"/>
<rect x="631.99" y="261.3" width="4.8" height="15.8" fill="#f5486f" stroke="#fff" stroke-width="0.5" stroke-opacity="0.5"/>
<rect x="637.6" y="261.3" width="4.8" height="15.8" fill="#f5486f" stroke="#fff" stroke-width="0.5" stroke-opacity="0.5"/>
<rect x="643.2" y="268.7" width="4.8" height="8.4" fill="#f5486f" stroke="#fff" stroke-width="0.5" stroke-opacity="0.5"/>
<rect x="648.82" y="272.3" width="4.8" height="4.8" fill="#f5486f" stroke="#fff" stroke-width="0.5" stroke-opacity="0.5"/>
<rect x="654.42" y="271.2" width="4.8" height="5.9" fill="#f5486f" stroke="#fff" stroke-width="0.5" stroke-opacity="0.5"/>
<rect x="665.64" y="273" width="4.8" height="4.1" fill="#f5486f" stroke="#fff" stroke-width="0.5" stroke-opacity="0.5"/>
<rect x="671.25" y="274.1" width="4.8" height="3" fill="#f5486f" stroke="#fff" stroke-width="0.5" stroke-opacity="0.5"/>
<text transform="translate(37.8 278.7) scale(1 1.13)" font-size="4.1" fill="#303030" stroke="#303030" stroke-width="0.14" text-anchor="end">1</text>
<text transform="translate(37.8 272.87) scale(1 1.13)" font-size="4.1" fill="#303030" stroke="#303030" stroke-width="0.14" text-anchor="end">10</text>
<text transform="translate(37.8 267.04) scale(1 1.13)" font-size="4.1" fill="#303030" stroke="#303030" stroke-width="0.14" text-anchor="end">100</text>
<text transform="translate(37.8 261.21) scale(1 1.13)" font-size="4.1" fill="#303030" stroke="#303030" stroke-width="0.14" text-anchor="end">1000</text>
<text transform="translate(37.8 255.38) scale(1 1.13)" font-size="4.1" fill="#303030" stroke="#303030" stroke-width="0.14" text-anchor="end">10000</text>
<path d="M39.0 277.1H40.9M39.0 271.27H40.9M39.0 265.44H40.9M39.0 259.61H40.9M39.0 253.78H40.9" stroke="#222" stroke-width="0.8"/>
<rect x="41.15" y="280.5" width="258.06" height="28.4" fill="#e9ecec"/>
<path d="M43.95 280.5V308.9M49.56 280.5V308.9M55.17 280.5V308.9M60.79 280.5V308.9M66.4 280.5V308.9M72.01 280.5V308.9M77.62 280.5V308.9M83.23 280.5V308.9M88.84 280.5V308.9M94.45 280.5V308.9M100.06 280.5V308.9M105.67 280.5V308.9M111.28 280.5V308.9M116.89 280.5V308.9M122.5 280.5V308.9M128.11 280.5V308.9M133.72 280.5V308.9M139.33 280.5V308.9M144.94 280.5V308.9M150.55 280.5V308.9M156.16 280.5V308.9M161.77 280.5V308.9M167.38 280.5V308.9M172.99 280.5V308.9M178.6 280.5V308.9M184.21 280.5V308.9M189.82 280.5V308.9M195.43 280.5V308.9M201.04 280.5V308.9M206.65 280.5V308.9M212.26 280.5V308.9M217.87 280.5V308.9M223.48 280.5V308.9M229.09 280.5V308.9M234.7 280.5V308.9M240.31 280.5V308.9M245.92 280.5V308.9M251.53 280.5V308.9M257.13 280.5V308.9M262.75 280.5V308.9M268.36 280.5V308.9M273.97 280.5V308.9M279.57 280.5V308.9M285.19 280.5V308.9M290.8 280.5V308.9M296.41 280.5V308.9M41.15 307.2H299.21M41.15 301.33H299.21M41.15 295.46H299.21M41.15 289.59H299.21M41.15 283.72H299.21" stroke="#fff" stroke-width="0.8" fill="none"/>
<rect x="41.55" y="305.7" width="4.8" height="1.5" fill="#f5486f" stroke="#fff" stroke-width="0.5" stroke-opacity="0.5"/>
<rect x="58.39" y="304" width="4.8" height="3.2" fill="#f5486f" stroke="#fff" stroke-width="0.5" stroke-opacity="0.5"/>
<rect x="64" y="306" width="4.8" height="1.2" fill="#f5486f" stroke="#fff" stroke-width="0.5" stroke-opacity="0.5"/>
<rect x="75.22" y="304" width="4.8" height="3.2" fill="#f5486f" stroke="#fff" stroke-width="0.5" stroke-opacity="0.5"/>
<rect x="108.88" y="305.3" width="4.8" height="1.9" fill="#f5486f" stroke="#fff" stroke-width="0.5" stroke-opacity="0.5"/>
<rect x="114.49" y="306" width="4.8" height="1.2" fill="#f5486f" stroke="#fff" stroke-width="0.5" stroke-opacity="0.5"/>
<rect x="125.71" y="306" width="4.8" height="1.2" fill="#f5486f" stroke="#fff" stroke-width="0.5" stroke-opacity="0.5"/>
<rect x="131.31" y="306.7" width="4.8" height="0.5" fill="#f5486f" stroke="#fff" stroke-width="0.5" stroke-opacity="0.5"/>
<rect x="142.53" y="304.4" width="4.8" height="2.8" fill="#f5486f" stroke="#fff" stroke-width="0.5" stroke-opacity="0.5"/>
<rect x="153.75" y="306" width="4.8" height="1.2" fill="#f5486f" stroke="#fff" stroke-width="0.5" stroke-opacity="0.5"/>
<rect x="159.37" y="306" width="4.8" height="1.2" fill="#f5486f" stroke="#fff" stroke-width="0.5" stroke-opacity="0.5"/>
<rect x="164.97" y="306.5" width="4.8" height="0.7" fill="#f5486f" stroke="#fff" stroke-width="0.5" stroke-opacity="0.5"/>
<rect x="170.59" y="306.7" width="4.8" height="0.5" fill="#f5486f" stroke="#fff" stroke-width="0.5" stroke-opacity="0.5"/>
<rect x="176.2" y="306.7" width="4.8" height="0.5" fill="#f5486f" stroke="#fff" stroke-width="0.5" stroke-opacity="0.5"/>
<rect x="187.42" y="305.1" width="4.8" height="2.1" fill="#f5486f" stroke="#fff" stroke-width="0.5" stroke-opacity="0.5"/>
<rect x="193.03" y="306.7" width="4.8" height="0.5" fill="#f5486f" stroke="#fff" stroke-width="0.5" stroke-opacity="0.5"/>
<rect x="198.64" y="306.3" width="4.8" height="0.9" fill="#f5486f" stroke="#fff" stroke-width="0.5" stroke-opacity="0.5"/>
<rect x="204.25" y="306.7" width="4.8" height="0.5" fill="#f5486f" stroke="#fff" stroke-width="0.5" stroke-opacity="0.5"/>
<rect x="215.47" y="306.3" width="4.8" height="0.9" fill="#f5486f" stroke="#fff" stroke-width="0.5" stroke-opacity="0.5"/>
<rect x="221.08" y="306.7" width="4.8" height="0.5" fill="#f5486f" stroke="#fff" stroke-width="0.5" stroke-opacity="0.5"/>
<rect x="226.69" y="305.9" width="4.8" height="1.3" fill="#f5486f" stroke="#fff" stroke-width="0.5" stroke-opacity="0.5"/>
<rect x="249.13" y="306.3" width="4.8" height="0.9" fill="#f5486f" stroke="#fff" stroke-width="0.5" stroke-opacity="0.5"/>
<rect x="260.35" y="306" width="4.8" height="1.2" fill="#f5486f" stroke="#fff" stroke-width="0.5" stroke-opacity="0.5"/>
<rect x="265.96" y="306" width="4.8" height="1.2" fill="#f5486f" stroke="#fff" stroke-width="0.5" stroke-opacity="0.5"/>
<rect x="302.6" y="280.5" width="56.1" height="28.4" fill="#e9ecec"/>
<path d="M305.41 280.5V308.9M311.02 280.5V308.9M316.63 280.5V308.9M322.24 280.5V308.9M327.85 280.5V308.9M333.46 280.5V308.9M339.07 280.5V308.9M344.68 280.5V308.9M350.29 280.5V308.9M355.9 280.5V308.9M302.6 307.2H358.7M302.6 301.33H358.7M302.6 295.46H358.7M302.6 289.59H358.7M302.6 283.72H358.7" stroke="#fff" stroke-width="0.8" fill="none"/>
<rect x="319.84" y="306.5" width="4.8" height="0.7" fill="#f5486f" stroke="#fff" stroke-width="0.5" stroke-opacity="0.5"/>
<rect x="336.67" y="306" width="4.8" height="1.2" fill="#f5486f" stroke="#fff" stroke-width="0.5" stroke-opacity="0.5"/>
<rect x="362.3" y="280.5" width="314.16" height="28.4" fill="#e9ecec"/>
<path d="M365.11 280.5V308.9M370.72 280.5V308.9M376.33 280.5V308.9M381.94 280.5V308.9M387.55 280.5V308.9M393.16 280.5V308.9M398.77 280.5V308.9M404.38 280.5V308.9M409.99 280.5V308.9M415.6 280.5V308.9M421.21 280.5V308.9M426.81 280.5V308.9M432.43 280.5V308.9M438.04 280.5V308.9M443.65 280.5V308.9M449.26 280.5V308.9M454.87 280.5V308.9M460.48 280.5V308.9M466.09 280.5V308.9M471.69 280.5V308.9M477.31 280.5V308.9M482.92 280.5V308.9M488.53 280.5V308.9M494.14 280.5V308.9M499.75 280.5V308.9M505.36 280.5V308.9M510.97 280.5V308.9M516.57 280.5V308.9M522.18 280.5V308.9M527.79 280.5V308.9M533.4 280.5V308.9M539.01 280.5V308.9M544.62 280.5V308.9M550.24 280.5V308.9M555.84 280.5V308.9M561.46 280.5V308.9M567.06 280.5V308.9M572.67 280.5V308.9M578.28 280.5V308.9M583.89 280.5V308.9M589.5 280.5V308.9M595.12 280.5V308.9M600.73 280.5V308.9M606.33 280.5V308.9M611.94 280.5V308.9M617.55 280.5V308.9M623.16 280.5V308.9M628.77 280.5V308.9M634.38 280.5V308.9M640 280.5V308.9M645.6 280.5V308.9M651.22 280.5V308.9M656.82 280.5V308.9M662.44 280.5V308.9M668.04 280.5V308.9M673.65 280.5V308.9M362.3 307.2H676.46M362.3 301.33H676.46M362.3 295.46H676.46M362.3 289.59H676.46M362.3 283.72H676.46" stroke="#fff" stroke-width="0.8" fill="none"/>
<rect x="362.71" y="292.1" width="4.8" height="15.1" fill="#f5486f" stroke="#fff" stroke-width="0.5" stroke-opacity="0.5"/>
<rect x="368.32" y="285.6" width="4.8" height="21.6" fill="#f5486f" stroke="#fff" stroke-width="0.5" stroke-opacity="0.5"/>
<rect x="373.93" y="290.8" width="4.8" height="16.4" fill="#f5486f" stroke="#fff" stroke-width="0.5" stroke-opacity="0.5"/>
<rect x="379.54" y="292.4" width="4.8" height="14.8" fill="#f5486f" stroke="#fff" stroke-width="0.5" stroke-opacity="0.5"/>
<rect x="385.15" y="294.9" width="4.8" height="12.3" fill="#f5486f" stroke="#fff" stroke-width="0.5" stroke-opacity="0.5"/>
<rect x="390.76" y="293.3" width="4.8" height="13.9" fill="#f5486f" stroke="#fff" stroke-width="0.5" stroke-opacity="0.5"/>
<rect x="396.37" y="294.4" width="4.8" height="12.8" fill="#f5486f" stroke="#fff" stroke-width="0.5" stroke-opacity="0.5"/>
<rect x="401.98" y="292.1" width="4.8" height="15.1" fill="#f5486f" stroke="#fff" stroke-width="0.5" stroke-opacity="0.5"/>
<rect x="407.59" y="291.3" width="4.8" height="15.9" fill="#f5486f" stroke="#fff" stroke-width="0.5" stroke-opacity="0.5"/>
<rect x="413.2" y="294.4" width="4.8" height="12.8" fill="#f5486f" stroke="#fff" stroke-width="0.5" stroke-opacity="0.5"/>
<rect x="418.81" y="297.1" width="4.8" height="10.1" fill="#f5486f" stroke="#fff" stroke-width="0.5" stroke-opacity="0.5"/>
<rect x="424.42" y="298.1" width="4.8" height="9.1" fill="#f5486f" stroke="#fff" stroke-width="0.5" stroke-opacity="0.5"/>
<rect x="430.03" y="293.8" width="4.8" height="13.4" fill="#f5486f" stroke="#fff" stroke-width="0.5" stroke-opacity="0.5"/>
<rect x="435.64" y="296" width="4.8" height="11.2" fill="#f5486f" stroke="#fff" stroke-width="0.5" stroke-opacity="0.5"/>
<rect x="441.25" y="293" width="4.8" height="14.2" fill="#f5486f" stroke="#fff" stroke-width="0.5" stroke-opacity="0.5"/>
<rect x="446.86" y="292.1" width="4.8" height="15.1" fill="#f5486f" stroke="#fff" stroke-width="0.5" stroke-opacity="0.5"/>
<rect x="452.47" y="293.5" width="4.8" height="13.7" fill="#f5486f" stroke="#fff" stroke-width="0.5" stroke-opacity="0.5"/>
<rect x="458.08" y="294.9" width="4.8" height="12.3" fill="#f5486f" stroke="#fff" stroke-width="0.5" stroke-opacity="0.5"/>
<rect x="463.69" y="294.4" width="4.8" height="12.8" fill="#f5486f" stroke="#fff" stroke-width="0.5" stroke-opacity="0.5"/>
<rect x="469.3" y="291" width="4.8" height="16.2" fill="#f5486f" stroke="#fff" stroke-width="0.5" stroke-opacity="0.5"/>
<rect x="474.91" y="295.1" width="4.8" height="12.1" fill="#f5486f" stroke="#fff" stroke-width="0.5" stroke-opacity="0.5"/>
<rect x="480.52" y="290.5" width="4.8" height="16.7" fill="#f5486f" stroke="#fff" stroke-width="0.5" stroke-opacity="0.5"/>
<rect x="486.13" y="297.9" width="4.8" height="9.3" fill="#f5486f" stroke="#fff" stroke-width="0.5" stroke-opacity="0.5"/>
<rect x="491.74" y="294.1" width="4.8" height="13.1" fill="#f5486f" stroke="#fff" stroke-width="0.5" stroke-opacity="0.5"/>
<rect x="497.35" y="295.9" width="4.8" height="11.3" fill="#f5486f" stroke="#fff" stroke-width="0.5" stroke-opacity="0.5"/>
<rect x="502.96" y="293.5" width="4.8" height="13.7" fill="#f5486f" stroke="#fff" stroke-width="0.5" stroke-opacity="0.5"/>
<rect x="508.57" y="292.2" width="4.8" height="15" fill="#f5486f" stroke="#fff" stroke-width="0.5" stroke-opacity="0.5"/>
<rect x="514.17" y="296" width="4.8" height="11.2" fill="#f5486f" stroke="#fff" stroke-width="0.5" stroke-opacity="0.5"/>
<rect x="519.78" y="293.5" width="4.8" height="13.7" fill="#f5486f" stroke="#fff" stroke-width="0.5" stroke-opacity="0.5"/>
<rect x="525.39" y="293.2" width="4.8" height="14" fill="#f5486f" stroke="#fff" stroke-width="0.5" stroke-opacity="0.5"/>
<rect x="531" y="297.1" width="4.8" height="10.1" fill="#f5486f" stroke="#fff" stroke-width="0.5" stroke-opacity="0.5"/>
<rect x="536.62" y="293" width="4.8" height="14.2" fill="#f5486f" stroke="#fff" stroke-width="0.5" stroke-opacity="0.5"/>
<rect x="542.23" y="300.4" width="4.8" height="6.8" fill="#f5486f" stroke="#fff" stroke-width="0.5" stroke-opacity="0.5"/>
<rect x="547.84" y="294.1" width="4.8" height="13.1" fill="#f5486f" stroke="#fff" stroke-width="0.5" stroke-opacity="0.5"/>
<rect x="553.44" y="291.3" width="4.8" height="15.9" fill="#f5486f" stroke="#fff" stroke-width="0.5" stroke-opacity="0.5"/>
<rect x="559.06" y="295.1" width="4.8" height="12.1" fill="#f5486f" stroke="#fff" stroke-width="0.5" stroke-opacity="0.5"/>
<rect x="564.66" y="297.1" width="4.8" height="10.1" fill="#f5486f" stroke="#fff" stroke-width="0.5" stroke-opacity="0.5"/>
<rect x="570.27" y="294" width="4.8" height="13.2" fill="#f5486f" stroke="#fff" stroke-width="0.5" stroke-opacity="0.5"/>
<rect x="575.88" y="285.6" width="4.8" height="21.6" fill="#f5486f" stroke="#fff" stroke-width="0.5" stroke-opacity="0.5"/>
<rect x="581.5" y="297.3" width="4.8" height="9.9" fill="#f5486f" stroke="#fff" stroke-width="0.5" stroke-opacity="0.5"/>
<rect x="587.11" y="297.7" width="4.8" height="9.5" fill="#f5486f" stroke="#fff" stroke-width="0.5" stroke-opacity="0.5"/>
<rect x="592.72" y="295.1" width="4.8" height="12.1" fill="#f5486f" stroke="#fff" stroke-width="0.5" stroke-opacity="0.5"/>
<rect x="598.33" y="298.1" width="4.8" height="9.1" fill="#f5486f" stroke="#fff" stroke-width="0.5" stroke-opacity="0.5"/>
<rect x="603.93" y="298.7" width="4.8" height="8.5" fill="#f5486f" stroke="#fff" stroke-width="0.5" stroke-opacity="0.5"/>
<rect x="609.54" y="297.1" width="4.8" height="10.1" fill="#f5486f" stroke="#fff" stroke-width="0.5" stroke-opacity="0.5"/>
<rect x="615.15" y="297.9" width="4.8" height="9.3" fill="#f5486f" stroke="#fff" stroke-width="0.5" stroke-opacity="0.5"/>
<rect x="620.76" y="296" width="4.8" height="11.2" fill="#f5486f" stroke="#fff" stroke-width="0.5" stroke-opacity="0.5"/>
<rect x="626.38" y="294.3" width="4.8" height="12.9" fill="#f5486f" stroke="#fff" stroke-width="0.5" stroke-opacity="0.5"/>
<rect x="631.99" y="296.8" width="4.8" height="10.4" fill="#f5486f" stroke="#fff" stroke-width="0.5" stroke-opacity="0.5"/>
<rect x="637.6" y="301.2" width="4.8" height="6" fill="#f5486f" stroke="#fff" stroke-width="0.5" stroke-opacity="0.5"/>
<rect x="643.2" y="302.2" width="4.8" height="5" fill="#f5486f" stroke="#fff" stroke-width="0.5" stroke-opacity="0.5"/>
<rect x="648.82" y="299.2" width="4.8" height="8" fill="#f5486f" stroke="#fff" stroke-width="0.5" stroke-opacity="0.5"/>
<rect x="654.42" y="303.1" width="4.8" height="4.1" fill="#f5486f" stroke="#fff" stroke-width="0.5" stroke-opacity="0.5"/>
<rect x="660.04" y="305.9" width="4.8" height="1.3" fill="#f5486f" stroke="#fff" stroke-width="0.5" stroke-opacity="0.5"/>
<rect x="665.64" y="305.9" width="4.8" height="1.3" fill="#f5486f" stroke="#fff" stroke-width="0.5" stroke-opacity="0.5"/>
<rect x="671.25" y="302.5" width="4.8" height="4.7" fill="#f5486f" stroke="#fff" stroke-width="0.5" stroke-opacity="0.5"/>
<text transform="translate(37.8 308.8) scale(1 1.13)" font-size="4.1" fill="#303030" stroke="#303030" stroke-width="0.14" text-anchor="end">1</text>
<text transform="translate(37.8 302.93) scale(1 1.13)" font-size="4.1" fill="#303030" stroke="#303030" stroke-width="0.14" text-anchor="end">10</text>
<text transform="translate(37.8 297.06) scale(1 1.13)" font-size="4.1" fill="#303030" stroke="#303030" stroke-width="0.14" text-anchor="end">100</text>
<text transform="translate(37.8 291.19) scale(1 1.13)" font-size="4.1" fill="#303030" stroke="#303030" stroke-width="0.14" text-anchor="end">1000</text>
<text transform="translate(37.8 285.32) scale(1 1.13)" font-size="4.1" fill="#303030" stroke="#303030" stroke-width="0.14" text-anchor="end">10000</text>
<path d="M39.0 307.2H40.9M39.0 301.33H40.9M39.0 295.46H40.9M39.0 289.59H40.9M39.0 283.72H40.9" stroke="#222" stroke-width="0.8"/>
<text transform="translate(13.2 279.6) rotate(-90) scale(1 1.3)" font-size="5.2" fill="#1a1a1a" stroke="#1a1a1a" stroke-width="0.15" text-anchor="middle">concentration</text>
<text transform="translate(18.4 279.6) rotate(-90) scale(1 1.2)" font-size="5.1" fill="#1a1a1a" stroke="#1a1a1a" stroke-width="0.15" text-anchor="middle">(ug/mL)</text>
<rect x="41.15" y="314.5" width="5.61" height="6.15" fill="#d4eef4"/>
<rect x="46.76" y="314.5" width="16.83" height="6.15" fill="#8de3ea"/>
<rect x="63.59" y="314.5" width="16.83" height="6.15" fill="#d4eef4"/>
<rect x="80.42" y="314.5" width="11.22" height="6.15" fill="#8de3ea"/>
<rect x="91.64" y="314.5" width="5.61" height="6.15" fill="#d4eef4"/>
<rect x="97.25" y="314.5" width="28.05" height="6.15" fill="#8de3ea"/>
<rect x="125.3" y="314.5" width="50.49" height="6.15" fill="#d4eef4"/>
<rect x="175.79" y="314.5" width="5.61" height="6.15" fill="#8de3ea"/>
<rect x="181.4" y="314.5" width="5.61" height="6.15" fill="#d4eef4"/>
<rect x="187.01" y="314.5" width="11.22" height="6.15" fill="#8de3ea"/>
<rect x="198.23" y="314.5" width="11.22" height="6.15" fill="#d4eef4"/>
<rect x="209.45" y="314.5" width="11.22" height="6.15" fill="#8de3ea"/>
<rect x="220.67" y="314.5" width="16.83" height="6.15" fill="#d4eef4"/>
<rect x="237.5" y="314.5" width="16.83" height="6.15" fill="#8de3ea"/>
<rect x="254.33" y="314.5" width="33.66" height="6.15" fill="#d4eef4"/>
<rect x="287.99" y="314.5" width="11.22" height="6.15" fill="#8de3ea"/>
<rect x="41.15" y="320.65" width="11.22" height="6.15" fill="#f6a8d4"/>
<rect x="52.37" y="320.65" width="5.61" height="6.15" fill="#2a87e0"/>
<rect x="57.98" y="320.65" width="11.22" height="6.15" fill="#f6a8d4"/>
<rect x="69.2" y="320.65" width="5.61" height="6.15" fill="#2a87e0"/>
<rect x="74.81" y="320.65" width="5.61" height="6.15" fill="#f6a8d4"/>
<rect x="80.42" y="320.65" width="5.61" height="6.15" fill="#2a87e0"/>
<rect x="86.03" y="320.65" width="22.44" height="6.15" fill="#f6a8d4"/>
<rect x="108.47" y="320.65" width="16.83" height="6.15" fill="#2a87e0"/>
<rect x="125.3" y="320.65" width="5.61" height="6.15" fill="#f6a8d4"/>
<rect x="130.91" y="320.65" width="11.22" height="6.15" fill="#2a87e0"/>
<rect x="142.13" y="320.65" width="61.71" height="6.15" fill="#f6a8d4"/>
<rect x="203.84" y="320.65" width="11.22" height="6.15" fill="#2a87e0"/>
<rect x="215.06" y="320.65" width="5.61" height="6.15" fill="#f6a8d4"/>
<rect x="220.67" y="320.65" width="5.61" height="6.15" fill="#2a87e0"/>
<rect x="226.28" y="320.65" width="11.22" height="6.15" fill="#f6a8d4"/>
<rect x="237.5" y="320.65" width="11.22" height="6.15" fill="#2a87e0"/>
<rect x="248.72" y="320.65" width="16.83" height="6.15" fill="#f6a8d4"/>
<rect x="265.55" y="320.65" width="16.83" height="6.15" fill="#2a87e0"/>
<rect x="282.38" y="320.65" width="5.61" height="6.15" fill="#f6a8d4"/>
<rect x="287.99" y="320.65" width="11.22" height="6.15" fill="#2a87e0"/>
<rect x="41.15" y="326.8" width="258.06" height="6.15" fill="#c6ceca"/>
<rect x="41.15" y="332.95" width="258.06" height="6.15" fill="#c6ceca"/>
<path d="M46.76 314.5V339.1M52.37 314.5V339.1M57.98 314.5V339.1M63.59 314.5V339.1M69.2 314.5V339.1M74.81 314.5V339.1M80.42 314.5V339.1M86.03 314.5V339.1M91.64 314.5V339.1M97.25 314.5V339.1M102.86 314.5V339.1M108.47 314.5V339.1M114.08 314.5V339.1M119.69 314.5V339.1M125.3 314.5V339.1M130.91 314.5V339.1M136.52 314.5V339.1M142.13 314.5V339.1M147.74 314.5V339.1M153.35 314.5V339.1M158.96 314.5V339.1M164.57 314.5V339.1M170.18 314.5V339.1M175.79 314.5V339.1M181.4 314.5V339.1M187.01 314.5V339.1M192.62 314.5V339.1M198.23 314.5V339.1M203.84 314.5V339.1M209.45 314.5V339.1M215.06 314.5V339.1M220.67 314.5V339.1M226.28 314.5V339.1M231.89 314.5V339.1M237.5 314.5V339.1M243.11 314.5V339.1M248.72 314.5V339.1M254.33 314.5V339.1M259.94 314.5V339.1M265.55 314.5V339.1M271.16 314.5V339.1M276.77 314.5V339.1M282.38 314.5V339.1M287.99 314.5V339.1M293.6 314.5V339.1M41.15 320.65H299.21M41.15 326.8H299.21M41.15 332.95H299.21" stroke="#fff" stroke-opacity="0.45" stroke-width="0.45" fill="none"/>
<rect x="302.6" y="314.5" width="5.61" height="6.15" fill="#8de3ea"/>
<rect x="308.21" y="314.5" width="5.61" height="6.15" fill="#d4eef4"/>
<rect x="313.82" y="314.5" width="44.88" height="6.15" fill="#8de3ea"/>
<rect x="302.6" y="320.65" width="22.44" height="6.15" fill="#2a87e0"/>
<rect x="325.04" y="320.65" width="5.61" height="6.15" fill="#f6a8d4"/>
<rect x="330.65" y="320.65" width="28.05" height="6.15" fill="#2a87e0"/>
<rect x="302.6" y="326.8" width="56.1" height="6.15" fill="#c6ceca"/>
<rect x="302.6" y="332.95" width="56.1" height="6.15" fill="#c6ceca"/>
<path d="M308.21 314.5V339.1M313.82 314.5V339.1M319.43 314.5V339.1M325.04 314.5V339.1M330.65 314.5V339.1M336.26 314.5V339.1M341.87 314.5V339.1M347.48 314.5V339.1M353.09 314.5V339.1M302.6 320.65H358.7M302.6 326.8H358.7M302.6 332.95H358.7" stroke="#fff" stroke-opacity="0.45" stroke-width="0.45" fill="none"/>
<rect x="362.3" y="314.5" width="16.83" height="6.15" fill="#d4eef4"/>
<rect x="379.13" y="314.5" width="5.61" height="6.15" fill="#2a87e0"/>
<rect x="384.74" y="314.5" width="5.61" height="6.15" fill="#d4eef4"/>
<rect x="390.35" y="314.5" width="5.61" height="6.15" fill="#2a87e0"/>
<rect x="395.96" y="314.5" width="5.61" height="6.15" fill="#8de3ea"/>
<rect x="401.57" y="314.5" width="11.22" height="6.15" fill="#d4eef4"/>
<rect x="412.79" y="314.5" width="22.44" height="6.15" fill="#2a87e0"/>
<rect x="435.23" y="314.5" width="5.61" height="6.15" fill="#d4eef4"/>
<rect x="440.84" y="314.5" width="11.22" height="6.15" fill="#8de3ea"/>
<rect x="452.06" y="314.5" width="11.22" height="6.15" fill="#d4eef4"/>
<rect x="463.28" y="314.5" width="5.61" height="6.15" fill="#8de3ea"/>
<rect x="468.89" y="314.5" width="5.61" height="6.15" fill="#d4eef4"/>
<rect x="474.5" y="314.5" width="5.61" height="6.15" fill="#8de3ea"/>
<rect x="480.11" y="314.5" width="22.44" height="6.15" fill="#2a87e0"/>
<rect x="502.55" y="314.5" width="11.22" height="6.15" fill="#8de3ea"/>
<rect x="513.77" y="314.5" width="11.22" height="6.15" fill="#d4eef4"/>
<rect x="524.99" y="314.5" width="16.83" height="6.15" fill="#8de3ea"/>
<rect x="541.82" y="314.5" width="5.61" height="6.15" fill="#2a87e0"/>
<rect x="547.43" y="314.5" width="5.61" height="6.15" fill="#8de3ea"/>
<rect x="553.04" y="314.5" width="5.61" height="6.15" fill="#d4eef4"/>
<rect x="558.65" y="314.5" width="5.61" height="6.15" fill="#2a87e0"/>
<rect x="564.26" y="314.5" width="11.22" height="6.15" fill="#8de3ea"/>
<rect x="575.48" y="314.5" width="11.22" height="6.15" fill="#d4eef4"/>
<rect x="586.7" y="314.5" width="16.83" height="6.15" fill="#2a87e0"/>
<rect x="603.53" y="314.5" width="5.61" height="6.15" fill="#d4eef4"/>
<rect x="609.14" y="314.5" width="5.61" height="6.15" fill="#2a87e0"/>
<rect x="614.75" y="314.5" width="5.61" height="6.15" fill="#8de3ea"/>
<rect x="620.36" y="314.5" width="11.22" height="6.15" fill="#d4eef4"/>
<rect x="631.58" y="314.5" width="5.61" height="6.15" fill="#2a87e0"/>
<rect x="637.19" y="314.5" width="5.61" height="6.15" fill="#8de3ea"/>
<rect x="642.8" y="314.5" width="5.61" height="6.15" fill="#d4eef4"/>
<rect x="648.41" y="314.5" width="5.61" height="6.15" fill="#2a87e0"/>
<rect x="654.02" y="314.5" width="5.61" height="6.15" fill="#d4eef4"/>
<rect x="659.63" y="314.5" width="5.61" height="6.15" fill="#8de3ea"/>
<rect x="665.24" y="314.5" width="5.61" height="6.15" fill="#d4eef4"/>
<rect x="670.85" y="314.5" width="5.61" height="6.15" fill="#8de3ea"/>
<rect x="362.3" y="320.65" width="16.83" height="6.15" fill="#2a87e0"/>
<rect x="379.13" y="320.65" width="5.61" height="6.15" fill="#f6a8d4"/>
<rect x="384.74" y="320.65" width="11.22" height="6.15" fill="#2a87e0"/>
<rect x="395.96" y="320.65" width="5.61" height="6.15" fill="#f6a8d4"/>
<rect x="401.57" y="320.65" width="11.22" height="6.15" fill="#2a87e0"/>
<rect x="412.79" y="320.65" width="22.44" height="6.15" fill="#f6a8d4"/>
<rect x="435.23" y="320.65" width="5.61" height="6.15" fill="#2a87e0"/>
<rect x="440.84" y="320.65" width="5.61" height="6.15" fill="#f6a8d4"/>
<rect x="446.45" y="320.65" width="16.83" height="6.15" fill="#2a87e0"/>
<rect x="463.28" y="320.65" width="5.61" height="6.15" fill="#f6a8d4"/>
<rect x="468.89" y="320.65" width="5.61" height="6.15" fill="#2a87e0"/>
<rect x="474.5" y="320.65" width="5.61" height="6.15" fill="#f6a8d4"/>
<rect x="480.11" y="320.65" width="22.44" height="6.15" fill="#2a87e0"/>
<rect x="502.55" y="320.65" width="5.61" height="6.15" fill="#f6a8d4"/>
<rect x="508.16" y="320.65" width="5.61" height="6.15" fill="#2a87e0"/>
<rect x="513.77" y="320.65" width="16.83" height="6.15" fill="#f6a8d4"/>
<rect x="530.6" y="320.65" width="11.22" height="6.15" fill="#2a87e0"/>
<rect x="541.82" y="320.65" width="16.83" height="6.15" fill="#f6a8d4"/>
<rect x="558.65" y="320.65" width="11.22" height="6.15" fill="#2a87e0"/>
<rect x="569.87" y="320.65" width="44.88" height="6.15" fill="#f6a8d4"/>
<rect x="614.75" y="320.65" width="5.61" height="6.15" fill="#2a87e0"/>
<rect x="620.36" y="320.65" width="11.22" height="6.15" fill="#f6a8d4"/>
<rect x="631.58" y="320.65" width="16.83" height="6.15" fill="#2a87e0"/>
<rect x="648.41" y="320.65" width="28.05" height="6.15" fill="#f6a8d4"/>
<rect x="362.3" y="326.8" width="5.61" height="6.15" fill="#fbd8d8"/>
<rect x="367.91" y="326.8" width="11.22" height="6.15" fill="#f50016"/>
<rect x="379.13" y="326.8" width="28.05" height="6.15" fill="#fbd8d8"/>
<rect x="407.18" y="326.8" width="5.61" height="6.15" fill="#f50016"/>
<rect x="412.79" y="326.8" width="5.61" height="6.15" fill="#000000"/>
<rect x="418.4" y="326.8" width="5.61" height="6.15" fill="#fbd8d8"/>
<rect x="424.01" y="326.8" width="5.61" height="6.15" fill="#f27079"/>
<rect x="429.62" y="326.8" width="11.22" height="6.15" fill="#fbd8d8"/>
<rect x="440.84" y="326.8" width="11.22" height="6.15" fill="#000000"/>
<rect x="452.06" y="326.8" width="5.61" height="6.15" fill="#fbd8d8"/>
<rect x="457.67" y="326.8" width="5.61" height="6.15" fill="#f50016"/>
<rect x="463.28" y="326.8" width="11.22" height="6.15" fill="#fbd8d8"/>
<rect x="474.5" y="326.8" width="5.61" height="6.15" fill="#f50016"/>
<rect x="480.11" y="326.8" width="5.61" height="6.15" fill="#f27079"/>
<rect x="485.72" y="326.8" width="5.61" height="6.15" fill="#fbd8d8"/>
<rect x="491.33" y="326.8" width="5.61" height="6.15" fill="#f50016"/>
<rect x="496.94" y="326.8" width="22.44" height="6.15" fill="#fbd8d8"/>
<rect x="519.38" y="326.8" width="5.61" height="6.15" fill="#f50016"/>
<rect x="524.99" y="326.8" width="5.61" height="6.15" fill="#f27079"/>
<rect x="530.6" y="326.8" width="11.22" height="6.15" fill="#f50016"/>
<rect x="541.82" y="326.8" width="5.61" height="6.15" fill="#fbd8d8"/>
<rect x="547.43" y="326.8" width="5.61" height="6.15" fill="#f50016"/>
<rect x="553.04" y="326.8" width="5.61" height="6.15" fill="#f27079"/>
<rect x="558.65" y="326.8" width="11.22" height="6.15" fill="#f50016"/>
<rect x="569.87" y="326.8" width="5.61" height="6.15" fill="#f27079"/>
<rect x="575.48" y="326.8" width="11.22" height="6.15" fill="#fbd8d8"/>
<rect x="586.7" y="326.8" width="5.61" height="6.15" fill="#f50016"/>
<rect x="592.31" y="326.8" width="28.05" height="6.15" fill="#fbd8d8"/>
<rect x="620.36" y="326.8" width="5.61" height="6.15" fill="#f27079"/>
<rect x="625.97" y="326.8" width="5.61" height="6.15" fill="#fbd8d8"/>
<rect x="631.58" y="326.8" width="5.61" height="6.15" fill="#000000"/>
<rect x="637.19" y="326.8" width="5.61" height="6.15" fill="#f50016"/>
<rect x="642.8" y="326.8" width="5.61" height="6.15" fill="#fbd8d8"/>
<rect x="648.41" y="326.8" width="5.61" height="6.15" fill="#f27079"/>
<rect x="654.02" y="326.8" width="22.44" height="6.15" fill="#fbd8d8"/>
<rect x="362.3" y="332.95" width="28.05" height="6.15" fill="#5353e6"/>
<rect x="390.35" y="332.95" width="5.61" height="6.15" fill="#8c92e8"/>
<rect x="395.96" y="332.95" width="5.61" height="6.15" fill="#5353e6"/>
<rect x="401.57" y="332.95" width="5.61" height="6.15" fill="#c2c8f2"/>
<rect x="407.18" y="332.95" width="5.61" height="6.15" fill="#5353e6"/>
<rect x="412.79" y="332.95" width="5.61" height="6.15" fill="#8c92e8"/>
<rect x="418.4" y="332.95" width="5.61" height="6.15" fill="#1a00dc"/>
<rect x="424.01" y="332.95" width="5.61" height="6.15" fill="#c2c8f2"/>
<rect x="429.62" y="332.95" width="5.61" height="6.15" fill="#5353e6"/>
<rect x="435.23" y="332.95" width="5.61" height="6.15" fill="#1a00dc"/>
<rect x="440.84" y="332.95" width="16.83" height="6.15" fill="#8c92e8"/>
<rect x="457.67" y="332.95" width="16.83" height="6.15" fill="#5353e6"/>
<rect x="474.5" y="332.95" width="5.61" height="6.15" fill="#8c92e8"/>
<rect x="480.11" y="332.95" width="5.61" height="6.15" fill="#c2c8f2"/>
<rect x="485.72" y="332.95" width="5.61" height="6.15" fill="#5353e6"/>
<rect x="491.33" y="332.95" width="11.22" height="6.15" fill="#8c92e8"/>
<rect x="502.55" y="332.95" width="5.61" height="6.15" fill="#5353e6"/>
<rect x="508.16" y="332.95" width="5.61" height="6.15" fill="#1a00dc"/>
<rect x="513.77" y="332.95" width="5.61" height="6.15" fill="#8c92e8"/>
<rect x="519.38" y="332.95" width="5.61" height="6.15" fill="#c2c8f2"/>
<rect x="524.99" y="332.95" width="5.61" height="6.15" fill="#8c92e8"/>
<rect x="530.6" y="332.95" width="11.22" height="6.15" fill="#c2c8f2"/>
<rect x="541.82" y="332.95" width="5.61" height="6.15" fill="#1a00dc"/>
<rect x="547.43" y="332.95" width="5.61" height="6.15" fill="#c2c8f2"/>
<rect x="553.04" y="332.95" width="5.61" height="6.15" fill="#8c92e8"/>
<rect x="558.65" y="332.95" width="11.22" height="6.15" fill="#c2c8f2"/>
<rect x="569.87" y="332.95" width="5.61" height="6.15" fill="#8c92e8"/>
<rect x="575.48" y="332.95" width="11.22" height="6.15" fill="#5353e6"/>
<rect x="586.7" y="332.95" width="5.61" height="6.15" fill="#c2c8f2"/>
<rect x="592.31" y="332.95" width="5.61" height="6.15" fill="#5353e6"/>
<rect x="597.92" y="332.95" width="5.61" height="6.15" fill="#1a00dc"/>
<rect x="603.53" y="332.95" width="5.61" height="6.15" fill="#5353e6"/>
<rect x="609.14" y="332.95" width="11.22" height="6.15" fill="#1a00dc"/>
<rect x="620.36" y="332.95" width="5.61" height="6.15" fill="#8c92e8"/>
<rect x="625.97" y="332.95" width="5.61" height="6.15" fill="#1a00dc"/>
<rect x="631.58" y="332.95" width="5.61" height="6.15" fill="#8c92e8"/>
<rect x="637.19" y="332.95" width="11.22" height="6.15" fill="#c2c8f2"/>
<rect x="648.41" y="332.95" width="5.61" height="6.15" fill="#1a00dc"/>
<rect x="654.02" y="332.95" width="16.83" height="6.15" fill="#8c92e8"/>
<rect x="670.85" y="332.95" width="5.61" height="6.15" fill="#5353e6"/>
<path d="M367.91 314.5V339.1M373.52 314.5V339.1M379.13 314.5V339.1M384.74 314.5V339.1M390.35 314.5V339.1M395.96 314.5V339.1M401.57 314.5V339.1M407.18 314.5V339.1M412.79 314.5V339.1M418.4 314.5V339.1M424.01 314.5V339.1M429.62 314.5V339.1M435.23 314.5V339.1M440.84 314.5V339.1M446.45 314.5V339.1M452.06 314.5V339.1M457.67 314.5V339.1M463.28 314.5V339.1M468.89 314.5V339.1M474.5 314.5V339.1M480.11 314.5V339.1M485.72 314.5V339.1M491.33 314.5V339.1M496.94 314.5V339.1M502.55 314.5V339.1M508.16 314.5V339.1M513.77 314.5V339.1M519.38 314.5V339.1M524.99 314.5V339.1M530.6 314.5V339.1M536.21 314.5V339.1M541.82 314.5V339.1M547.43 314.5V339.1M553.04 314.5V339.1M558.65 314.5V339.1M564.26 314.5V339.1M569.87 314.5V339.1M575.48 314.5V339.1M581.09 314.5V339.1M586.7 314.5V339.1M592.31 314.5V339.1M597.92 314.5V339.1M603.53 314.5V339.1M609.14 314.5V339.1M614.75 314.5V339.1M620.36 314.5V339.1M625.97 314.5V339.1M631.58 314.5V339.1M637.19 314.5V339.1M642.8 314.5V339.1M648.41 314.5V339.1M654.02 314.5V339.1M659.63 314.5V339.1M665.24 314.5V339.1M670.85 314.5V339.1M362.3 320.65H676.46M362.3 326.8H676.46M362.3 332.95H676.46" stroke="#fff" stroke-opacity="0.45" stroke-width="0.45" fill="none"/>
<text transform="translate(37.8 319.77) scale(1 1.13)" font-size="4.1" fill="#303030" stroke="#303030" stroke-width="0.14" text-anchor="end">age</text>
<text transform="translate(37.8 325.93) scale(1 1.13)" font-size="4.1" fill="#303030" stroke="#303030" stroke-width="0.14" text-anchor="end">sex</text>
<text transform="translate(37.8 332.07) scale(1 1.13)" font-size="4.1" fill="#303030" stroke="#303030" stroke-width="0.14" text-anchor="end">severity</text>
<text transform="translate(37.8 338.22) scale(1 1.13)" font-size="4.1" fill="#303030" stroke="#303030" stroke-width="0.14" text-anchor="end">wks post symptoms</text>
<path d="M39.0 317.57H40.9M39.0 323.73H40.9M39.0 329.88H40.9M39.0 336.02H40.9" stroke="#222" stroke-width="0.8"/>
<text transform="translate(0 7) scale(1.0001)" font-size="7.9" fill="#000" font-weight="bold">A</text>
<text transform="translate(-0.9 253.6) scale(1.0001)" font-size="7.7" fill="#000" font-weight="bold">B</text>
<text transform="translate(-1.1 313.1) scale(1.0001)" font-size="7.5" fill="#000" font-weight="bold">C</text>
<rect x="192.4" y="346.4" width="332" height="23.6" fill="#fff" stroke="#d0d6d4" stroke-width="0.6"/>
<rect x="198" y="349.1" width="9.5" height="9.3" fill="#000000"/>
<text transform="translate(210.2 355.7) scale(1 1.07)" font-size="4.4" fill="#111" stroke="#111" stroke-width="0.1">Deceased</text>
<rect x="198" y="358.4" width="9.5" height="9.3" fill="#f50016"/>
<text transform="translate(210.2 365) scale(1 1.07)" font-size="4.4" fill="#111" stroke="#111" stroke-width="0.1">ICU(intubated)</text>
<rect x="241.4" y="349.1" width="9.5" height="9.3" fill="#f27079"/>
<text transform="translate(253.6 355.7) scale(1 1.07)" font-size="4.4" fill="#111" stroke="#111" stroke-width="0.1">ICU (non-intubated)</text>
<rect x="241.4" y="358.4" width="9.5" height="9.3" fill="#fbd8d8"/>
<text transform="translate(253.6 365) scale(1 1.07)" font-size="4.4" fill="#111" stroke="#111" stroke-width="0.1">Outpatient</text>
<rect x="307" y="349.1" width="9.5" height="9.3" fill="#f6a8d4"/>
<text transform="translate(319.2 355.7) scale(1 1.07)" font-size="4.4" fill="#111" stroke="#111" stroke-width="0.1">Female</text>
<rect x="307" y="358.4" width="9.5" height="9.3" fill="#2a87e0"/>
<text transform="translate(319.2 365) scale(1 1.07)" font-size="4.4" fill="#111" stroke="#111" stroke-width="0.1">Male</text>
<rect x="350.3" y="349.1" width="9.5" height="9.3" fill="#1a00dc"/>
<text transform="translate(362.5 355.7) scale(1 1.07)" font-size="4.4" fill="#111" stroke="#111" stroke-width="0.1">1 week post</text>
<rect x="350.3" y="358.4" width="9.5" height="9.3" fill="#5353e6"/>
<text transform="translate(362.5 365) scale(1 1.07)" font-size="4.4" fill="#111" stroke="#111" stroke-width="0.1">2 weeks post</text>
<rect x="390.8" y="349.1" width="9.5" height="9.3" fill="#8c92e8"/>
<text transform="translate(403 355.7) scale(1 1.07)" font-size="4.4" fill="#111" stroke="#111" stroke-width="0.1">3 weeks post</text>
<rect x="390.8" y="358.4" width="9.5" height="9.3" fill="#c2c8f2"/>
<text transform="translate(403 365) scale(1 1.07)" font-size="4.4" fill="#111" stroke="#111" stroke-width="0.1">4 weeks post</text>
<rect x="445.4" y="349.1" width="9.5" height="9.3" fill="#d4eef4"/>
<text transform="translate(457.6 355.7) scale(1 1.07)" font-size="4.4" fill="#111" stroke="#111" stroke-width="0.1">20–40 years</text>
<rect x="445.4" y="358.4" width="9.5" height="9.3" fill="#8de3ea"/>
<text transform="translate(457.6 365) scale(1 1.07)" font-size="4.4" fill="#111" stroke="#111" stroke-width="0.1">50–69 years</text>
<rect x="485.1" y="349.1" width="9.5" height="9.3" fill="#2a87e0"/>
<text transform="translate(497.3 355.7) scale(1 1.07)" font-size="4.4" fill="#111" stroke="#111" stroke-width="0.1">70–80 years</text>
<rect x="485.1" y="358.4" width="9.5" height="9.3" fill="#c6ceca"/>
<text transform="translate(497.3 365) scale(1 1.07)" font-size="4.4" fill="#111" stroke="#111" stroke-width="0.1">NA</text>
<text transform="translate(584.6 364.6) scale(1.0001)" font-size="6.75" fill="#000" font-weight="bold">Trombetta et al_ Figure 2</text>
</svg></body></html>
